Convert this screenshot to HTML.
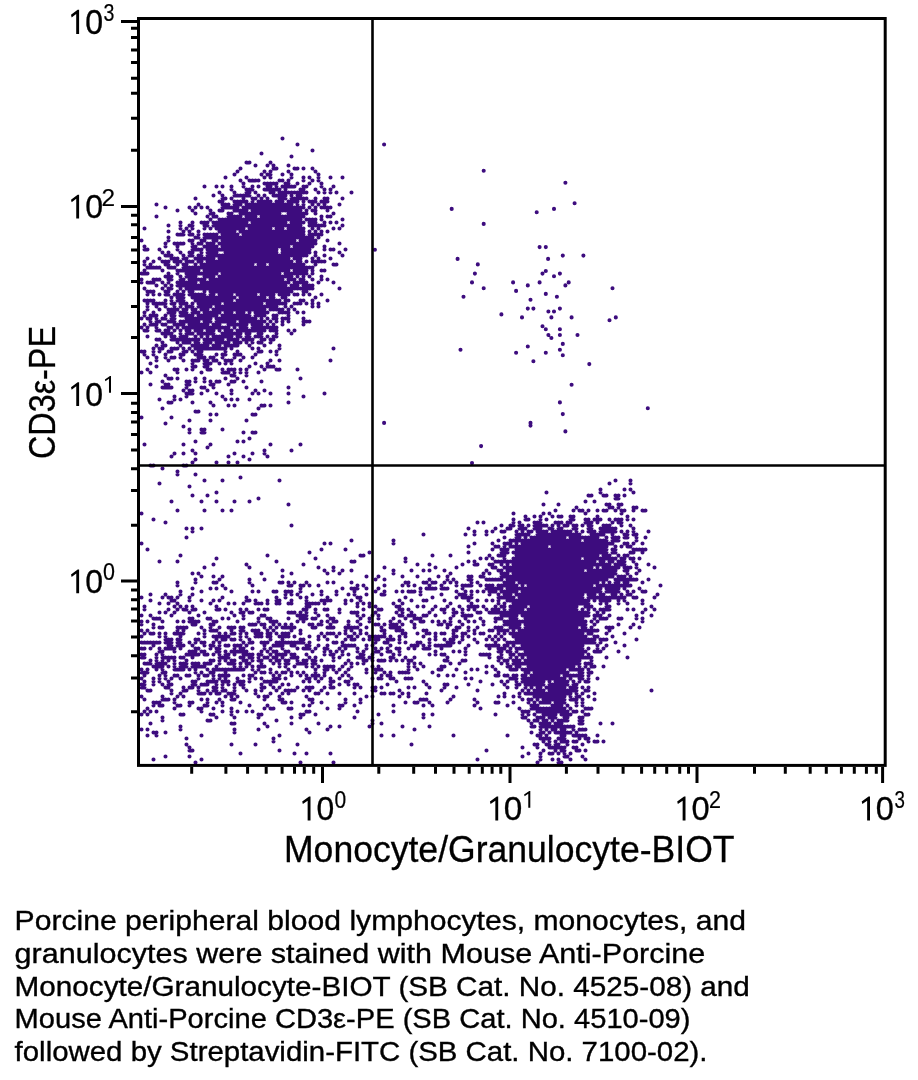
<!DOCTYPE html>
<html><head><meta charset="utf-8"><style>html,body{margin:0;padding:0;background:#fff;}svg{display:block;will-change:transform}</style></head>
<body><svg width="918" height="1080" viewBox="0 0 918 1080">
<rect width="918" height="1080" fill="#fff"/>
<path d="M282.5 138.5h0M297.5 144.5h0M312.5 150.5h0M261.5 153.5h0M291.5 156.5h0M246.5 162.5h0M249.5 162.5h0M270.5 162.5h0M255.5 165.5h0M267.5 165.5h0M273.5 165.5h0M288.5 165.5h0M240.5 168.5h0M273.5 168.5h0M276.5 168.5h0M294.5 168.5h0M297.5 168.5h0M303.5 168.5h0M312.5 168.5h0M237.5 171.5h0M264.5 171.5h0M270.5 171.5h0M288.5 171.5h0M315.5 171.5h0M234.5 174.5h0M261.5 174.5h0M267.5 174.5h0M270.5 174.5h0M282.5 174.5h0M291.5 174.5h0M318.5 174.5h0M225.5 177.5h0M246.5 177.5h0M264.5 177.5h0M270.5 177.5h0M291.5 177.5h0M303.5 177.5h0M309.5 177.5h0M318.5 177.5h0M330.5 177.5h0M342.5 177.5h0M240.5 180.5h0M249.5 180.5h0M252.5 180.5h0M255.5 180.5h0M258.5 180.5h0M279.5 180.5h0M282.5 180.5h0M288.5 180.5h0M303.5 180.5h0M312.5 180.5h0M318.5 180.5h0M243.5 183.5h0M264.5 183.5h0M267.5 183.5h0M270.5 183.5h0M273.5 183.5h0M276.5 183.5h0M285.5 183.5h0M288.5 183.5h0M297.5 183.5h0M309.5 183.5h0M321.5 183.5h0M204.5 186.5h0M216.5 186.5h0M222.5 186.5h0M231.5 186.5h0M243.5 186.5h0M252.5 186.5h0M258.5 186.5h0M267.5 186.5h0M270.5 186.5h0M276.5 186.5h0M282.5 186.5h0M285.5 186.5h0M288.5 186.5h0M291.5 186.5h0M294.5 186.5h0M303.5 186.5h0M306.5 186.5h0M321.5 186.5h0M333.5 186.5h0M231.5 189.5h0M246.5 189.5h0M249.5 189.5h0M252.5 189.5h0M264.5 189.5h0M267.5 189.5h0M270.5 189.5h0M273.5 189.5h0M276.5 189.5h0M279.5 189.5h0M285.5 189.5h0M300.5 189.5h0M303.5 189.5h0M315.5 189.5h0M324.5 189.5h0M330.5 189.5h0M219.5 192.5h0M234.5 192.5h0M246.5 192.5h0M249.5 192.5h0M255.5 192.5h0M270.5 192.5h0M273.5 192.5h0M279.5 192.5h0M282.5 192.5h0M285.5 192.5h0M288.5 192.5h0M291.5 192.5h0M294.5 192.5h0M297.5 192.5h0M300.5 192.5h0M303.5 192.5h0M306.5 192.5h0M318.5 192.5h0M324.5 192.5h0M330.5 192.5h0M336.5 192.5h0M351.5 192.5h0M213.5 195.5h0M222.5 195.5h0M234.5 195.5h0M237.5 195.5h0M240.5 195.5h0M243.5 195.5h0M246.5 195.5h0M249.5 195.5h0M258.5 195.5h0M264.5 195.5h0M273.5 195.5h0M276.5 195.5h0M279.5 195.5h0M282.5 195.5h0M285.5 195.5h0M291.5 195.5h0M297.5 195.5h0M300.5 195.5h0M195.5 198.5h0M222.5 198.5h0M225.5 198.5h0M231.5 198.5h0M243.5 198.5h0M252.5 198.5h0M255.5 198.5h0M261.5 198.5h0M267.5 198.5h0M279.5 198.5h0M282.5 198.5h0M285.5 198.5h0M291.5 198.5h0M294.5 198.5h0M297.5 198.5h0M300.5 198.5h0M303.5 198.5h0M306.5 198.5h0M315.5 198.5h0M324.5 198.5h0M327.5 198.5h0M342.5 198.5h0M219.5 201.5h0M222.5 201.5h0M234.5 201.5h0M237.5 201.5h0M240.5 201.5h0M243.5 201.5h0M246.5 201.5h0M252.5 201.5h0M258.5 201.5h0M261.5 201.5h0M264.5 201.5h0M267.5 201.5h0M270.5 201.5h0M276.5 201.5h0M279.5 201.5h0M282.5 201.5h0M288.5 201.5h0M291.5 201.5h0M294.5 201.5h0M297.5 201.5h0M303.5 201.5h0M309.5 201.5h0M312.5 201.5h0M315.5 201.5h0M321.5 201.5h0M324.5 201.5h0M327.5 201.5h0M156.5 204.5h0M198.5 204.5h0M222.5 204.5h0M225.5 204.5h0M228.5 204.5h0M234.5 204.5h0M237.5 204.5h0M240.5 204.5h0M246.5 204.5h0M249.5 204.5h0M252.5 204.5h0M255.5 204.5h0M258.5 204.5h0M261.5 204.5h0M264.5 204.5h0M267.5 204.5h0M270.5 204.5h0M273.5 204.5h0M276.5 204.5h0M279.5 204.5h0M282.5 204.5h0M285.5 204.5h0M288.5 204.5h0M291.5 204.5h0M297.5 204.5h0M303.5 204.5h0M312.5 204.5h0M318.5 204.5h0M324.5 204.5h0M339.5 204.5h0M165.5 207.5h0M189.5 207.5h0M195.5 207.5h0M201.5 207.5h0M207.5 207.5h0M222.5 207.5h0M225.5 207.5h0M228.5 207.5h0M231.5 207.5h0M234.5 207.5h0M237.5 207.5h0M243.5 207.5h0M246.5 207.5h0M249.5 207.5h0M252.5 207.5h0M255.5 207.5h0M258.5 207.5h0M261.5 207.5h0M264.5 207.5h0M267.5 207.5h0M270.5 207.5h0M273.5 207.5h0M276.5 207.5h0M279.5 207.5h0M282.5 207.5h0M285.5 207.5h0M288.5 207.5h0M291.5 207.5h0M294.5 207.5h0M297.5 207.5h0M300.5 207.5h0M303.5 207.5h0M309.5 207.5h0M315.5 207.5h0M321.5 207.5h0M324.5 207.5h0M327.5 207.5h0M330.5 207.5h0M177.5 210.5h0M192.5 210.5h0M210.5 210.5h0M219.5 210.5h0M222.5 210.5h0M234.5 210.5h0M237.5 210.5h0M240.5 210.5h0M243.5 210.5h0M246.5 210.5h0M252.5 210.5h0M255.5 210.5h0M258.5 210.5h0M261.5 210.5h0M264.5 210.5h0M267.5 210.5h0M270.5 210.5h0M273.5 210.5h0M276.5 210.5h0M279.5 210.5h0M282.5 210.5h0M285.5 210.5h0M288.5 210.5h0M291.5 210.5h0M294.5 210.5h0M297.5 210.5h0M300.5 210.5h0M306.5 210.5h0M312.5 210.5h0M315.5 210.5h0M327.5 210.5h0M195.5 213.5h0M210.5 213.5h0M213.5 213.5h0M228.5 213.5h0M231.5 213.5h0M240.5 213.5h0M243.5 213.5h0M246.5 213.5h0M249.5 213.5h0M252.5 213.5h0M255.5 213.5h0M258.5 213.5h0M261.5 213.5h0M264.5 213.5h0M267.5 213.5h0M270.5 213.5h0M273.5 213.5h0M276.5 213.5h0M279.5 213.5h0M288.5 213.5h0M291.5 213.5h0M294.5 213.5h0M297.5 213.5h0M300.5 213.5h0M303.5 213.5h0M306.5 213.5h0M315.5 213.5h0M333.5 213.5h0M156.5 216.5h0M207.5 216.5h0M213.5 216.5h0M216.5 216.5h0M228.5 216.5h0M231.5 216.5h0M234.5 216.5h0M237.5 216.5h0M240.5 216.5h0M246.5 216.5h0M249.5 216.5h0M252.5 216.5h0M255.5 216.5h0M261.5 216.5h0M264.5 216.5h0M267.5 216.5h0M270.5 216.5h0M273.5 216.5h0M276.5 216.5h0M279.5 216.5h0M282.5 216.5h0M285.5 216.5h0M288.5 216.5h0M291.5 216.5h0M294.5 216.5h0M297.5 216.5h0M300.5 216.5h0M303.5 216.5h0M321.5 216.5h0M327.5 216.5h0M330.5 216.5h0M210.5 219.5h0M219.5 219.5h0M222.5 219.5h0M225.5 219.5h0M228.5 219.5h0M231.5 219.5h0M234.5 219.5h0M237.5 219.5h0M240.5 219.5h0M243.5 219.5h0M246.5 219.5h0M249.5 219.5h0M252.5 219.5h0M255.5 219.5h0M258.5 219.5h0M261.5 219.5h0M264.5 219.5h0M267.5 219.5h0M270.5 219.5h0M273.5 219.5h0M276.5 219.5h0M279.5 219.5h0M282.5 219.5h0M285.5 219.5h0M288.5 219.5h0M291.5 219.5h0M294.5 219.5h0M297.5 219.5h0M300.5 219.5h0M306.5 219.5h0M309.5 219.5h0M312.5 219.5h0M315.5 219.5h0M321.5 219.5h0M342.5 219.5h0M180.5 222.5h0M192.5 222.5h0M201.5 222.5h0M204.5 222.5h0M207.5 222.5h0M213.5 222.5h0M216.5 222.5h0M219.5 222.5h0M222.5 222.5h0M225.5 222.5h0M228.5 222.5h0M231.5 222.5h0M234.5 222.5h0M237.5 222.5h0M240.5 222.5h0M243.5 222.5h0M246.5 222.5h0M252.5 222.5h0M255.5 222.5h0M258.5 222.5h0M261.5 222.5h0M264.5 222.5h0M267.5 222.5h0M270.5 222.5h0M273.5 222.5h0M276.5 222.5h0M279.5 222.5h0M282.5 222.5h0M285.5 222.5h0M291.5 222.5h0M294.5 222.5h0M297.5 222.5h0M300.5 222.5h0M303.5 222.5h0M309.5 222.5h0M312.5 222.5h0M315.5 222.5h0M324.5 222.5h0M330.5 222.5h0M336.5 222.5h0M168.5 225.5h0M180.5 225.5h0M189.5 225.5h0M192.5 225.5h0M204.5 225.5h0M207.5 225.5h0M213.5 225.5h0M216.5 225.5h0M219.5 225.5h0M222.5 225.5h0M225.5 225.5h0M228.5 225.5h0M231.5 225.5h0M234.5 225.5h0M237.5 225.5h0M240.5 225.5h0M243.5 225.5h0M246.5 225.5h0M249.5 225.5h0M252.5 225.5h0M255.5 225.5h0M258.5 225.5h0M261.5 225.5h0M264.5 225.5h0M267.5 225.5h0M270.5 225.5h0M273.5 225.5h0M276.5 225.5h0M279.5 225.5h0M282.5 225.5h0M285.5 225.5h0M288.5 225.5h0M291.5 225.5h0M294.5 225.5h0M297.5 225.5h0M300.5 225.5h0M309.5 225.5h0M312.5 225.5h0M315.5 225.5h0M318.5 225.5h0M321.5 225.5h0M324.5 225.5h0M342.5 225.5h0M144.5 228.5h0M180.5 228.5h0M186.5 228.5h0M192.5 228.5h0M204.5 228.5h0M210.5 228.5h0M216.5 228.5h0M219.5 228.5h0M222.5 228.5h0M225.5 228.5h0M228.5 228.5h0M231.5 228.5h0M234.5 228.5h0M237.5 228.5h0M240.5 228.5h0M243.5 228.5h0M249.5 228.5h0M252.5 228.5h0M255.5 228.5h0M258.5 228.5h0M261.5 228.5h0M264.5 228.5h0M267.5 228.5h0M270.5 228.5h0M276.5 228.5h0M279.5 228.5h0M282.5 228.5h0M288.5 228.5h0M291.5 228.5h0M294.5 228.5h0M297.5 228.5h0M300.5 228.5h0M303.5 228.5h0M312.5 228.5h0M318.5 228.5h0M333.5 228.5h0M339.5 228.5h0M168.5 231.5h0M183.5 231.5h0M189.5 231.5h0M198.5 231.5h0M219.5 231.5h0M222.5 231.5h0M225.5 231.5h0M228.5 231.5h0M231.5 231.5h0M234.5 231.5h0M240.5 231.5h0M243.5 231.5h0M246.5 231.5h0M249.5 231.5h0M252.5 231.5h0M255.5 231.5h0M258.5 231.5h0M261.5 231.5h0M264.5 231.5h0M267.5 231.5h0M270.5 231.5h0M273.5 231.5h0M276.5 231.5h0M279.5 231.5h0M282.5 231.5h0M285.5 231.5h0M288.5 231.5h0M291.5 231.5h0M294.5 231.5h0M297.5 231.5h0M300.5 231.5h0M303.5 231.5h0M309.5 231.5h0M315.5 231.5h0M321.5 231.5h0M327.5 231.5h0M177.5 234.5h0M180.5 234.5h0M183.5 234.5h0M189.5 234.5h0M192.5 234.5h0M198.5 234.5h0M204.5 234.5h0M207.5 234.5h0M210.5 234.5h0M213.5 234.5h0M216.5 234.5h0M222.5 234.5h0M225.5 234.5h0M228.5 234.5h0M231.5 234.5h0M234.5 234.5h0M237.5 234.5h0M243.5 234.5h0M246.5 234.5h0M249.5 234.5h0M252.5 234.5h0M255.5 234.5h0M258.5 234.5h0M261.5 234.5h0M264.5 234.5h0M267.5 234.5h0M270.5 234.5h0M273.5 234.5h0M276.5 234.5h0M279.5 234.5h0M282.5 234.5h0M285.5 234.5h0M288.5 234.5h0M291.5 234.5h0M294.5 234.5h0M297.5 234.5h0M300.5 234.5h0M303.5 234.5h0M309.5 234.5h0M312.5 234.5h0M315.5 234.5h0M318.5 234.5h0M321.5 234.5h0M168.5 237.5h0M195.5 237.5h0M198.5 237.5h0M204.5 237.5h0M207.5 237.5h0M210.5 237.5h0M213.5 237.5h0M216.5 237.5h0M219.5 237.5h0M222.5 237.5h0M225.5 237.5h0M228.5 237.5h0M231.5 237.5h0M234.5 237.5h0M237.5 237.5h0M240.5 237.5h0M243.5 237.5h0M246.5 237.5h0M249.5 237.5h0M252.5 237.5h0M255.5 237.5h0M258.5 237.5h0M261.5 237.5h0M264.5 237.5h0M267.5 237.5h0M270.5 237.5h0M273.5 237.5h0M276.5 237.5h0M279.5 237.5h0M282.5 237.5h0M285.5 237.5h0M288.5 237.5h0M291.5 237.5h0M294.5 237.5h0M297.5 237.5h0M300.5 237.5h0M303.5 237.5h0M306.5 237.5h0M309.5 237.5h0M312.5 237.5h0M318.5 237.5h0M141.5 240.5h0M168.5 240.5h0M189.5 240.5h0M192.5 240.5h0M201.5 240.5h0M204.5 240.5h0M213.5 240.5h0M216.5 240.5h0M222.5 240.5h0M225.5 240.5h0M228.5 240.5h0M231.5 240.5h0M234.5 240.5h0M237.5 240.5h0M240.5 240.5h0M243.5 240.5h0M246.5 240.5h0M249.5 240.5h0M252.5 240.5h0M255.5 240.5h0M258.5 240.5h0M261.5 240.5h0M264.5 240.5h0M267.5 240.5h0M270.5 240.5h0M273.5 240.5h0M276.5 240.5h0M279.5 240.5h0M282.5 240.5h0M285.5 240.5h0M288.5 240.5h0M291.5 240.5h0M294.5 240.5h0M300.5 240.5h0M303.5 240.5h0M306.5 240.5h0M309.5 240.5h0M312.5 240.5h0M315.5 240.5h0M327.5 240.5h0M165.5 243.5h0M174.5 243.5h0M177.5 243.5h0M180.5 243.5h0M183.5 243.5h0M192.5 243.5h0M198.5 243.5h0M201.5 243.5h0M207.5 243.5h0M210.5 243.5h0M213.5 243.5h0M219.5 243.5h0M222.5 243.5h0M225.5 243.5h0M228.5 243.5h0M231.5 243.5h0M234.5 243.5h0M237.5 243.5h0M240.5 243.5h0M243.5 243.5h0M246.5 243.5h0M249.5 243.5h0M252.5 243.5h0M255.5 243.5h0M258.5 243.5h0M261.5 243.5h0M264.5 243.5h0M267.5 243.5h0M270.5 243.5h0M273.5 243.5h0M276.5 243.5h0M279.5 243.5h0M282.5 243.5h0M285.5 243.5h0M288.5 243.5h0M291.5 243.5h0M294.5 243.5h0M297.5 243.5h0M300.5 243.5h0M303.5 243.5h0M306.5 243.5h0M309.5 243.5h0M312.5 243.5h0M315.5 243.5h0M339.5 243.5h0M144.5 246.5h0M165.5 246.5h0M177.5 246.5h0M192.5 246.5h0M195.5 246.5h0M204.5 246.5h0M207.5 246.5h0M210.5 246.5h0M213.5 246.5h0M216.5 246.5h0M222.5 246.5h0M225.5 246.5h0M228.5 246.5h0M231.5 246.5h0M234.5 246.5h0M237.5 246.5h0M240.5 246.5h0M243.5 246.5h0M246.5 246.5h0M249.5 246.5h0M252.5 246.5h0M255.5 246.5h0M258.5 246.5h0M261.5 246.5h0M264.5 246.5h0M267.5 246.5h0M270.5 246.5h0M273.5 246.5h0M276.5 246.5h0M279.5 246.5h0M282.5 246.5h0M285.5 246.5h0M288.5 246.5h0M294.5 246.5h0M297.5 246.5h0M300.5 246.5h0M303.5 246.5h0M306.5 246.5h0M309.5 246.5h0M312.5 246.5h0M324.5 246.5h0M144.5 249.5h0M147.5 249.5h0M159.5 249.5h0M177.5 249.5h0M192.5 249.5h0M195.5 249.5h0M198.5 249.5h0M201.5 249.5h0M207.5 249.5h0M210.5 249.5h0M213.5 249.5h0M216.5 249.5h0M219.5 249.5h0M222.5 249.5h0M225.5 249.5h0M228.5 249.5h0M231.5 249.5h0M234.5 249.5h0M237.5 249.5h0M240.5 249.5h0M243.5 249.5h0M246.5 249.5h0M249.5 249.5h0M252.5 249.5h0M255.5 249.5h0M258.5 249.5h0M261.5 249.5h0M264.5 249.5h0M267.5 249.5h0M270.5 249.5h0M273.5 249.5h0M276.5 249.5h0M282.5 249.5h0M285.5 249.5h0M288.5 249.5h0M291.5 249.5h0M294.5 249.5h0M297.5 249.5h0M300.5 249.5h0M303.5 249.5h0M306.5 249.5h0M309.5 249.5h0M324.5 249.5h0M330.5 249.5h0M333.5 249.5h0M345.5 249.5h0M162.5 252.5h0M168.5 252.5h0M180.5 252.5h0M189.5 252.5h0M192.5 252.5h0M201.5 252.5h0M207.5 252.5h0M210.5 252.5h0M213.5 252.5h0M216.5 252.5h0M225.5 252.5h0M228.5 252.5h0M231.5 252.5h0M234.5 252.5h0M237.5 252.5h0M240.5 252.5h0M243.5 252.5h0M246.5 252.5h0M249.5 252.5h0M252.5 252.5h0M255.5 252.5h0M258.5 252.5h0M261.5 252.5h0M264.5 252.5h0M267.5 252.5h0M270.5 252.5h0M273.5 252.5h0M276.5 252.5h0M282.5 252.5h0M285.5 252.5h0M288.5 252.5h0M291.5 252.5h0M294.5 252.5h0M297.5 252.5h0M300.5 252.5h0M303.5 252.5h0M306.5 252.5h0M309.5 252.5h0M315.5 252.5h0M339.5 252.5h0M165.5 255.5h0M168.5 255.5h0M171.5 255.5h0M183.5 255.5h0M189.5 255.5h0M192.5 255.5h0M198.5 255.5h0M201.5 255.5h0M207.5 255.5h0M210.5 255.5h0M213.5 255.5h0M216.5 255.5h0M219.5 255.5h0M222.5 255.5h0M225.5 255.5h0M228.5 255.5h0M231.5 255.5h0M234.5 255.5h0M237.5 255.5h0M240.5 255.5h0M243.5 255.5h0M246.5 255.5h0M249.5 255.5h0M252.5 255.5h0M255.5 255.5h0M258.5 255.5h0M261.5 255.5h0M264.5 255.5h0M267.5 255.5h0M270.5 255.5h0M273.5 255.5h0M276.5 255.5h0M279.5 255.5h0M282.5 255.5h0M285.5 255.5h0M288.5 255.5h0M291.5 255.5h0M294.5 255.5h0M297.5 255.5h0M300.5 255.5h0M303.5 255.5h0M306.5 255.5h0M315.5 255.5h0M324.5 255.5h0M342.5 255.5h0M147.5 258.5h0M159.5 258.5h0M171.5 258.5h0M174.5 258.5h0M177.5 258.5h0M183.5 258.5h0M186.5 258.5h0M195.5 258.5h0M198.5 258.5h0M201.5 258.5h0M204.5 258.5h0M207.5 258.5h0M210.5 258.5h0M213.5 258.5h0M219.5 258.5h0M222.5 258.5h0M225.5 258.5h0M228.5 258.5h0M231.5 258.5h0M234.5 258.5h0M237.5 258.5h0M240.5 258.5h0M243.5 258.5h0M246.5 258.5h0M249.5 258.5h0M252.5 258.5h0M255.5 258.5h0M258.5 258.5h0M261.5 258.5h0M264.5 258.5h0M267.5 258.5h0M270.5 258.5h0M273.5 258.5h0M276.5 258.5h0M279.5 258.5h0M282.5 258.5h0M285.5 258.5h0M288.5 258.5h0M294.5 258.5h0M297.5 258.5h0M300.5 258.5h0M312.5 258.5h0M318.5 258.5h0M330.5 258.5h0M144.5 261.5h0M153.5 261.5h0M162.5 261.5h0M165.5 261.5h0M168.5 261.5h0M174.5 261.5h0M177.5 261.5h0M180.5 261.5h0M186.5 261.5h0M189.5 261.5h0M192.5 261.5h0M198.5 261.5h0M201.5 261.5h0M207.5 261.5h0M210.5 261.5h0M213.5 261.5h0M216.5 261.5h0M219.5 261.5h0M222.5 261.5h0M225.5 261.5h0M228.5 261.5h0M231.5 261.5h0M234.5 261.5h0M237.5 261.5h0M240.5 261.5h0M243.5 261.5h0M246.5 261.5h0M249.5 261.5h0M252.5 261.5h0M255.5 261.5h0M258.5 261.5h0M261.5 261.5h0M264.5 261.5h0M267.5 261.5h0M270.5 261.5h0M273.5 261.5h0M276.5 261.5h0M279.5 261.5h0M282.5 261.5h0M285.5 261.5h0M288.5 261.5h0M291.5 261.5h0M297.5 261.5h0M300.5 261.5h0M306.5 261.5h0M312.5 261.5h0M315.5 261.5h0M318.5 261.5h0M321.5 261.5h0M324.5 261.5h0M144.5 264.5h0M150.5 264.5h0M165.5 264.5h0M168.5 264.5h0M177.5 264.5h0M183.5 264.5h0M186.5 264.5h0M195.5 264.5h0M201.5 264.5h0M204.5 264.5h0M207.5 264.5h0M210.5 264.5h0M213.5 264.5h0M216.5 264.5h0M219.5 264.5h0M222.5 264.5h0M225.5 264.5h0M228.5 264.5h0M231.5 264.5h0M234.5 264.5h0M237.5 264.5h0M240.5 264.5h0M243.5 264.5h0M246.5 264.5h0M249.5 264.5h0M252.5 264.5h0M258.5 264.5h0M261.5 264.5h0M264.5 264.5h0M270.5 264.5h0M273.5 264.5h0M276.5 264.5h0M279.5 264.5h0M282.5 264.5h0M285.5 264.5h0M288.5 264.5h0M291.5 264.5h0M294.5 264.5h0M297.5 264.5h0M300.5 264.5h0M303.5 264.5h0M315.5 264.5h0M333.5 264.5h0M336.5 264.5h0M147.5 267.5h0M150.5 267.5h0M153.5 267.5h0M156.5 267.5h0M159.5 267.5h0M168.5 267.5h0M171.5 267.5h0M174.5 267.5h0M183.5 267.5h0M186.5 267.5h0M189.5 267.5h0M192.5 267.5h0M195.5 267.5h0M198.5 267.5h0M201.5 267.5h0M204.5 267.5h0M207.5 267.5h0M210.5 267.5h0M213.5 267.5h0M216.5 267.5h0M219.5 267.5h0M222.5 267.5h0M225.5 267.5h0M228.5 267.5h0M231.5 267.5h0M234.5 267.5h0M237.5 267.5h0M240.5 267.5h0M243.5 267.5h0M246.5 267.5h0M249.5 267.5h0M252.5 267.5h0M255.5 267.5h0M258.5 267.5h0M261.5 267.5h0M264.5 267.5h0M267.5 267.5h0M270.5 267.5h0M273.5 267.5h0M276.5 267.5h0M279.5 267.5h0M282.5 267.5h0M285.5 267.5h0M288.5 267.5h0M291.5 267.5h0M294.5 267.5h0M297.5 267.5h0M300.5 267.5h0M303.5 267.5h0M306.5 267.5h0M309.5 267.5h0M312.5 267.5h0M144.5 270.5h0M162.5 270.5h0M177.5 270.5h0M180.5 270.5h0M183.5 270.5h0M186.5 270.5h0M189.5 270.5h0M192.5 270.5h0M195.5 270.5h0M198.5 270.5h0M204.5 270.5h0M207.5 270.5h0M210.5 270.5h0M213.5 270.5h0M216.5 270.5h0M219.5 270.5h0M222.5 270.5h0M225.5 270.5h0M228.5 270.5h0M231.5 270.5h0M234.5 270.5h0M237.5 270.5h0M240.5 270.5h0M243.5 270.5h0M246.5 270.5h0M249.5 270.5h0M252.5 270.5h0M255.5 270.5h0M258.5 270.5h0M261.5 270.5h0M264.5 270.5h0M267.5 270.5h0M270.5 270.5h0M273.5 270.5h0M276.5 270.5h0M279.5 270.5h0M282.5 270.5h0M285.5 270.5h0M288.5 270.5h0M294.5 270.5h0M297.5 270.5h0M300.5 270.5h0M303.5 270.5h0M306.5 270.5h0M312.5 270.5h0M321.5 270.5h0M324.5 270.5h0M141.5 273.5h0M144.5 273.5h0M147.5 273.5h0M168.5 273.5h0M177.5 273.5h0M186.5 273.5h0M189.5 273.5h0M192.5 273.5h0M195.5 273.5h0M198.5 273.5h0M201.5 273.5h0M204.5 273.5h0M207.5 273.5h0M210.5 273.5h0M213.5 273.5h0M216.5 273.5h0M222.5 273.5h0M225.5 273.5h0M228.5 273.5h0M231.5 273.5h0M234.5 273.5h0M237.5 273.5h0M240.5 273.5h0M243.5 273.5h0M246.5 273.5h0M249.5 273.5h0M252.5 273.5h0M255.5 273.5h0M258.5 273.5h0M261.5 273.5h0M264.5 273.5h0M267.5 273.5h0M270.5 273.5h0M273.5 273.5h0M276.5 273.5h0M279.5 273.5h0M285.5 273.5h0M288.5 273.5h0M291.5 273.5h0M294.5 273.5h0M297.5 273.5h0M300.5 273.5h0M303.5 273.5h0M306.5 273.5h0M312.5 273.5h0M165.5 276.5h0M168.5 276.5h0M171.5 276.5h0M180.5 276.5h0M186.5 276.5h0M189.5 276.5h0M192.5 276.5h0M195.5 276.5h0M204.5 276.5h0M207.5 276.5h0M210.5 276.5h0M213.5 276.5h0M219.5 276.5h0M222.5 276.5h0M225.5 276.5h0M228.5 276.5h0M231.5 276.5h0M234.5 276.5h0M237.5 276.5h0M240.5 276.5h0M243.5 276.5h0M246.5 276.5h0M249.5 276.5h0M252.5 276.5h0M255.5 276.5h0M258.5 276.5h0M261.5 276.5h0M264.5 276.5h0M267.5 276.5h0M270.5 276.5h0M273.5 276.5h0M276.5 276.5h0M279.5 276.5h0M282.5 276.5h0M285.5 276.5h0M288.5 276.5h0M291.5 276.5h0M297.5 276.5h0M303.5 276.5h0M309.5 276.5h0M321.5 276.5h0M141.5 279.5h0M153.5 279.5h0M156.5 279.5h0M159.5 279.5h0M168.5 279.5h0M171.5 279.5h0M180.5 279.5h0M183.5 279.5h0M189.5 279.5h0M192.5 279.5h0M195.5 279.5h0M198.5 279.5h0M201.5 279.5h0M204.5 279.5h0M210.5 279.5h0M213.5 279.5h0M216.5 279.5h0M219.5 279.5h0M222.5 279.5h0M225.5 279.5h0M228.5 279.5h0M231.5 279.5h0M234.5 279.5h0M237.5 279.5h0M240.5 279.5h0M243.5 279.5h0M246.5 279.5h0M249.5 279.5h0M252.5 279.5h0M255.5 279.5h0M258.5 279.5h0M261.5 279.5h0M264.5 279.5h0M267.5 279.5h0M270.5 279.5h0M273.5 279.5h0M276.5 279.5h0M279.5 279.5h0M282.5 279.5h0M288.5 279.5h0M291.5 279.5h0M294.5 279.5h0M300.5 279.5h0M303.5 279.5h0M312.5 279.5h0M321.5 279.5h0M327.5 279.5h0M141.5 282.5h0M147.5 282.5h0M150.5 282.5h0M153.5 282.5h0M162.5 282.5h0M168.5 282.5h0M177.5 282.5h0M180.5 282.5h0M183.5 282.5h0M186.5 282.5h0M189.5 282.5h0M192.5 282.5h0M195.5 282.5h0M201.5 282.5h0M204.5 282.5h0M207.5 282.5h0M210.5 282.5h0M213.5 282.5h0M216.5 282.5h0M219.5 282.5h0M222.5 282.5h0M225.5 282.5h0M228.5 282.5h0M231.5 282.5h0M234.5 282.5h0M237.5 282.5h0M240.5 282.5h0M243.5 282.5h0M246.5 282.5h0M249.5 282.5h0M252.5 282.5h0M255.5 282.5h0M258.5 282.5h0M261.5 282.5h0M264.5 282.5h0M267.5 282.5h0M270.5 282.5h0M273.5 282.5h0M276.5 282.5h0M279.5 282.5h0M282.5 282.5h0M285.5 282.5h0M288.5 282.5h0M294.5 282.5h0M297.5 282.5h0M300.5 282.5h0M303.5 282.5h0M306.5 282.5h0M318.5 282.5h0M333.5 282.5h0M156.5 285.5h0M165.5 285.5h0M171.5 285.5h0M177.5 285.5h0M180.5 285.5h0M183.5 285.5h0M186.5 285.5h0M189.5 285.5h0M192.5 285.5h0M195.5 285.5h0M198.5 285.5h0M201.5 285.5h0M204.5 285.5h0M207.5 285.5h0M210.5 285.5h0M213.5 285.5h0M216.5 285.5h0M219.5 285.5h0M222.5 285.5h0M225.5 285.5h0M228.5 285.5h0M231.5 285.5h0M234.5 285.5h0M237.5 285.5h0M240.5 285.5h0M243.5 285.5h0M246.5 285.5h0M249.5 285.5h0M252.5 285.5h0M255.5 285.5h0M258.5 285.5h0M261.5 285.5h0M264.5 285.5h0M267.5 285.5h0M270.5 285.5h0M273.5 285.5h0M276.5 285.5h0M279.5 285.5h0M282.5 285.5h0M285.5 285.5h0M291.5 285.5h0M294.5 285.5h0M297.5 285.5h0M303.5 285.5h0M306.5 285.5h0M309.5 285.5h0M312.5 285.5h0M144.5 288.5h0M162.5 288.5h0M168.5 288.5h0M171.5 288.5h0M180.5 288.5h0M186.5 288.5h0M189.5 288.5h0M192.5 288.5h0M195.5 288.5h0M198.5 288.5h0M201.5 288.5h0M204.5 288.5h0M207.5 288.5h0M210.5 288.5h0M213.5 288.5h0M216.5 288.5h0M219.5 288.5h0M222.5 288.5h0M225.5 288.5h0M228.5 288.5h0M231.5 288.5h0M234.5 288.5h0M237.5 288.5h0M240.5 288.5h0M243.5 288.5h0M246.5 288.5h0M249.5 288.5h0M252.5 288.5h0M255.5 288.5h0M258.5 288.5h0M261.5 288.5h0M264.5 288.5h0M267.5 288.5h0M270.5 288.5h0M273.5 288.5h0M276.5 288.5h0M279.5 288.5h0M282.5 288.5h0M285.5 288.5h0M288.5 288.5h0M291.5 288.5h0M294.5 288.5h0M297.5 288.5h0M300.5 288.5h0M303.5 288.5h0M306.5 288.5h0M309.5 288.5h0M312.5 288.5h0M339.5 288.5h0M147.5 291.5h0M150.5 291.5h0M153.5 291.5h0M165.5 291.5h0M168.5 291.5h0M177.5 291.5h0M183.5 291.5h0M189.5 291.5h0M192.5 291.5h0M204.5 291.5h0M210.5 291.5h0M213.5 291.5h0M216.5 291.5h0M219.5 291.5h0M222.5 291.5h0M225.5 291.5h0M228.5 291.5h0M231.5 291.5h0M234.5 291.5h0M237.5 291.5h0M240.5 291.5h0M243.5 291.5h0M246.5 291.5h0M249.5 291.5h0M252.5 291.5h0M255.5 291.5h0M258.5 291.5h0M261.5 291.5h0M264.5 291.5h0M267.5 291.5h0M270.5 291.5h0M273.5 291.5h0M276.5 291.5h0M279.5 291.5h0M282.5 291.5h0M285.5 291.5h0M288.5 291.5h0M291.5 291.5h0M303.5 291.5h0M306.5 291.5h0M147.5 294.5h0M153.5 294.5h0M159.5 294.5h0M165.5 294.5h0M168.5 294.5h0M174.5 294.5h0M177.5 294.5h0M180.5 294.5h0M183.5 294.5h0M189.5 294.5h0M192.5 294.5h0M195.5 294.5h0M198.5 294.5h0M201.5 294.5h0M204.5 294.5h0M210.5 294.5h0M213.5 294.5h0M219.5 294.5h0M222.5 294.5h0M225.5 294.5h0M228.5 294.5h0M231.5 294.5h0M237.5 294.5h0M240.5 294.5h0M243.5 294.5h0M246.5 294.5h0M249.5 294.5h0M252.5 294.5h0M255.5 294.5h0M261.5 294.5h0M264.5 294.5h0M267.5 294.5h0M270.5 294.5h0M273.5 294.5h0M279.5 294.5h0M282.5 294.5h0M285.5 294.5h0M288.5 294.5h0M294.5 294.5h0M297.5 294.5h0M303.5 294.5h0M309.5 294.5h0M321.5 294.5h0M171.5 297.5h0M177.5 297.5h0M180.5 297.5h0M183.5 297.5h0M192.5 297.5h0M195.5 297.5h0M198.5 297.5h0M201.5 297.5h0M204.5 297.5h0M207.5 297.5h0M210.5 297.5h0M213.5 297.5h0M216.5 297.5h0M219.5 297.5h0M222.5 297.5h0M225.5 297.5h0M228.5 297.5h0M231.5 297.5h0M234.5 297.5h0M240.5 297.5h0M243.5 297.5h0M246.5 297.5h0M249.5 297.5h0M252.5 297.5h0M255.5 297.5h0M258.5 297.5h0M261.5 297.5h0M264.5 297.5h0M270.5 297.5h0M273.5 297.5h0M282.5 297.5h0M285.5 297.5h0M315.5 297.5h0M144.5 300.5h0M147.5 300.5h0M150.5 300.5h0M153.5 300.5h0M165.5 300.5h0M171.5 300.5h0M177.5 300.5h0M180.5 300.5h0M183.5 300.5h0M195.5 300.5h0M198.5 300.5h0M201.5 300.5h0M204.5 300.5h0M207.5 300.5h0M210.5 300.5h0M213.5 300.5h0M216.5 300.5h0M219.5 300.5h0M222.5 300.5h0M225.5 300.5h0M228.5 300.5h0M231.5 300.5h0M237.5 300.5h0M240.5 300.5h0M243.5 300.5h0M246.5 300.5h0M249.5 300.5h0M252.5 300.5h0M255.5 300.5h0M258.5 300.5h0M261.5 300.5h0M264.5 300.5h0M267.5 300.5h0M270.5 300.5h0M273.5 300.5h0M276.5 300.5h0M279.5 300.5h0M285.5 300.5h0M288.5 300.5h0M300.5 300.5h0M303.5 300.5h0M312.5 300.5h0M327.5 300.5h0M147.5 303.5h0M153.5 303.5h0M156.5 303.5h0M159.5 303.5h0M162.5 303.5h0M165.5 303.5h0M171.5 303.5h0M174.5 303.5h0M180.5 303.5h0M183.5 303.5h0M186.5 303.5h0M192.5 303.5h0M198.5 303.5h0M201.5 303.5h0M204.5 303.5h0M207.5 303.5h0M210.5 303.5h0M213.5 303.5h0M216.5 303.5h0M219.5 303.5h0M225.5 303.5h0M228.5 303.5h0M231.5 303.5h0M234.5 303.5h0M237.5 303.5h0M240.5 303.5h0M243.5 303.5h0M246.5 303.5h0M249.5 303.5h0M252.5 303.5h0M255.5 303.5h0M258.5 303.5h0M261.5 303.5h0M267.5 303.5h0M270.5 303.5h0M273.5 303.5h0M276.5 303.5h0M279.5 303.5h0M282.5 303.5h0M285.5 303.5h0M294.5 303.5h0M297.5 303.5h0M300.5 303.5h0M306.5 303.5h0M312.5 303.5h0M318.5 303.5h0M147.5 306.5h0M156.5 306.5h0M165.5 306.5h0M174.5 306.5h0M180.5 306.5h0M186.5 306.5h0M189.5 306.5h0M192.5 306.5h0M198.5 306.5h0M201.5 306.5h0M204.5 306.5h0M207.5 306.5h0M210.5 306.5h0M216.5 306.5h0M219.5 306.5h0M222.5 306.5h0M225.5 306.5h0M228.5 306.5h0M231.5 306.5h0M234.5 306.5h0M237.5 306.5h0M240.5 306.5h0M243.5 306.5h0M246.5 306.5h0M249.5 306.5h0M252.5 306.5h0M255.5 306.5h0M258.5 306.5h0M261.5 306.5h0M264.5 306.5h0M267.5 306.5h0M270.5 306.5h0M273.5 306.5h0M276.5 306.5h0M285.5 306.5h0M291.5 306.5h0M312.5 306.5h0M318.5 306.5h0M147.5 309.5h0M159.5 309.5h0M168.5 309.5h0M171.5 309.5h0M174.5 309.5h0M177.5 309.5h0M183.5 309.5h0M186.5 309.5h0M192.5 309.5h0M195.5 309.5h0M201.5 309.5h0M204.5 309.5h0M207.5 309.5h0M213.5 309.5h0M216.5 309.5h0M219.5 309.5h0M222.5 309.5h0M225.5 309.5h0M228.5 309.5h0M231.5 309.5h0M234.5 309.5h0M237.5 309.5h0M240.5 309.5h0M243.5 309.5h0M246.5 309.5h0M249.5 309.5h0M252.5 309.5h0M255.5 309.5h0M258.5 309.5h0M261.5 309.5h0M264.5 309.5h0M270.5 309.5h0M273.5 309.5h0M276.5 309.5h0M279.5 309.5h0M282.5 309.5h0M288.5 309.5h0M294.5 309.5h0M144.5 312.5h0M153.5 312.5h0M168.5 312.5h0M171.5 312.5h0M174.5 312.5h0M180.5 312.5h0M183.5 312.5h0M186.5 312.5h0M192.5 312.5h0M195.5 312.5h0M198.5 312.5h0M204.5 312.5h0M207.5 312.5h0M210.5 312.5h0M213.5 312.5h0M216.5 312.5h0M219.5 312.5h0M225.5 312.5h0M228.5 312.5h0M231.5 312.5h0M237.5 312.5h0M240.5 312.5h0M243.5 312.5h0M249.5 312.5h0M255.5 312.5h0M258.5 312.5h0M261.5 312.5h0M264.5 312.5h0M267.5 312.5h0M279.5 312.5h0M282.5 312.5h0M285.5 312.5h0M288.5 312.5h0M297.5 312.5h0M303.5 312.5h0M144.5 315.5h0M150.5 315.5h0M153.5 315.5h0M156.5 315.5h0M165.5 315.5h0M171.5 315.5h0M174.5 315.5h0M180.5 315.5h0M183.5 315.5h0M186.5 315.5h0M189.5 315.5h0M192.5 315.5h0M198.5 315.5h0M201.5 315.5h0M204.5 315.5h0M207.5 315.5h0M210.5 315.5h0M213.5 315.5h0M216.5 315.5h0M222.5 315.5h0M225.5 315.5h0M228.5 315.5h0M231.5 315.5h0M234.5 315.5h0M237.5 315.5h0M240.5 315.5h0M243.5 315.5h0M246.5 315.5h0M249.5 315.5h0M255.5 315.5h0M258.5 315.5h0M261.5 315.5h0M264.5 315.5h0M273.5 315.5h0M276.5 315.5h0M288.5 315.5h0M141.5 318.5h0M147.5 318.5h0M150.5 318.5h0M156.5 318.5h0M162.5 318.5h0M165.5 318.5h0M171.5 318.5h0M174.5 318.5h0M186.5 318.5h0M189.5 318.5h0M192.5 318.5h0M195.5 318.5h0M198.5 318.5h0M201.5 318.5h0M204.5 318.5h0M207.5 318.5h0M210.5 318.5h0M216.5 318.5h0M219.5 318.5h0M222.5 318.5h0M225.5 318.5h0M228.5 318.5h0M231.5 318.5h0M234.5 318.5h0M237.5 318.5h0M240.5 318.5h0M243.5 318.5h0M246.5 318.5h0M249.5 318.5h0M252.5 318.5h0M255.5 318.5h0M261.5 318.5h0M267.5 318.5h0M273.5 318.5h0M276.5 318.5h0M282.5 318.5h0M285.5 318.5h0M288.5 318.5h0M303.5 318.5h0M150.5 321.5h0M156.5 321.5h0M159.5 321.5h0M168.5 321.5h0M171.5 321.5h0M174.5 321.5h0M180.5 321.5h0M183.5 321.5h0M186.5 321.5h0M189.5 321.5h0M192.5 321.5h0M195.5 321.5h0M198.5 321.5h0M204.5 321.5h0M207.5 321.5h0M210.5 321.5h0M216.5 321.5h0M219.5 321.5h0M222.5 321.5h0M225.5 321.5h0M228.5 321.5h0M231.5 321.5h0M234.5 321.5h0M240.5 321.5h0M243.5 321.5h0M246.5 321.5h0M249.5 321.5h0M252.5 321.5h0M255.5 321.5h0M258.5 321.5h0M261.5 321.5h0M264.5 321.5h0M270.5 321.5h0M276.5 321.5h0M282.5 321.5h0M288.5 321.5h0M303.5 321.5h0M306.5 321.5h0M309.5 321.5h0M144.5 324.5h0M150.5 324.5h0M153.5 324.5h0M156.5 324.5h0M162.5 324.5h0M165.5 324.5h0M174.5 324.5h0M177.5 324.5h0M180.5 324.5h0M183.5 324.5h0M189.5 324.5h0M192.5 324.5h0M195.5 324.5h0M198.5 324.5h0M201.5 324.5h0M204.5 324.5h0M207.5 324.5h0M213.5 324.5h0M216.5 324.5h0M219.5 324.5h0M228.5 324.5h0M231.5 324.5h0M234.5 324.5h0M237.5 324.5h0M240.5 324.5h0M243.5 324.5h0M246.5 324.5h0M252.5 324.5h0M255.5 324.5h0M258.5 324.5h0M261.5 324.5h0M267.5 324.5h0M273.5 324.5h0M282.5 324.5h0M303.5 324.5h0M141.5 327.5h0M147.5 327.5h0M156.5 327.5h0M168.5 327.5h0M171.5 327.5h0M177.5 327.5h0M183.5 327.5h0M186.5 327.5h0M189.5 327.5h0M192.5 327.5h0M195.5 327.5h0M198.5 327.5h0M201.5 327.5h0M204.5 327.5h0M207.5 327.5h0M210.5 327.5h0M213.5 327.5h0M216.5 327.5h0M219.5 327.5h0M222.5 327.5h0M225.5 327.5h0M228.5 327.5h0M234.5 327.5h0M240.5 327.5h0M243.5 327.5h0M246.5 327.5h0M252.5 327.5h0M255.5 327.5h0M258.5 327.5h0M261.5 327.5h0M264.5 327.5h0M267.5 327.5h0M270.5 327.5h0M273.5 327.5h0M276.5 327.5h0M144.5 330.5h0M147.5 330.5h0M156.5 330.5h0M159.5 330.5h0M165.5 330.5h0M168.5 330.5h0M174.5 330.5h0M180.5 330.5h0M186.5 330.5h0M189.5 330.5h0M195.5 330.5h0M198.5 330.5h0M201.5 330.5h0M207.5 330.5h0M210.5 330.5h0M213.5 330.5h0M219.5 330.5h0M225.5 330.5h0M228.5 330.5h0M231.5 330.5h0M237.5 330.5h0M240.5 330.5h0M243.5 330.5h0M246.5 330.5h0M249.5 330.5h0M252.5 330.5h0M255.5 330.5h0M258.5 330.5h0M261.5 330.5h0M264.5 330.5h0M270.5 330.5h0M273.5 330.5h0M276.5 330.5h0M288.5 330.5h0M294.5 330.5h0M162.5 333.5h0M165.5 333.5h0M168.5 333.5h0M171.5 333.5h0M180.5 333.5h0M186.5 333.5h0M189.5 333.5h0M192.5 333.5h0M198.5 333.5h0M201.5 333.5h0M204.5 333.5h0M207.5 333.5h0M210.5 333.5h0M213.5 333.5h0M222.5 333.5h0M225.5 333.5h0M228.5 333.5h0M231.5 333.5h0M234.5 333.5h0M237.5 333.5h0M240.5 333.5h0M246.5 333.5h0M249.5 333.5h0M258.5 333.5h0M261.5 333.5h0M276.5 333.5h0M291.5 333.5h0M147.5 336.5h0M165.5 336.5h0M171.5 336.5h0M174.5 336.5h0M180.5 336.5h0M183.5 336.5h0M186.5 336.5h0M195.5 336.5h0M201.5 336.5h0M207.5 336.5h0M213.5 336.5h0M216.5 336.5h0M219.5 336.5h0M222.5 336.5h0M225.5 336.5h0M228.5 336.5h0M231.5 336.5h0M237.5 336.5h0M240.5 336.5h0M246.5 336.5h0M249.5 336.5h0M255.5 336.5h0M258.5 336.5h0M261.5 336.5h0M267.5 336.5h0M273.5 336.5h0M276.5 336.5h0M156.5 339.5h0M159.5 339.5h0M171.5 339.5h0M174.5 339.5h0M177.5 339.5h0M180.5 339.5h0M183.5 339.5h0M186.5 339.5h0M189.5 339.5h0M192.5 339.5h0M195.5 339.5h0M198.5 339.5h0M204.5 339.5h0M207.5 339.5h0M210.5 339.5h0M213.5 339.5h0M216.5 339.5h0M219.5 339.5h0M222.5 339.5h0M228.5 339.5h0M231.5 339.5h0M234.5 339.5h0M237.5 339.5h0M243.5 339.5h0M246.5 339.5h0M249.5 339.5h0M252.5 339.5h0M261.5 339.5h0M264.5 339.5h0M270.5 339.5h0M273.5 339.5h0M162.5 342.5h0M177.5 342.5h0M183.5 342.5h0M186.5 342.5h0M189.5 342.5h0M195.5 342.5h0M198.5 342.5h0M204.5 342.5h0M207.5 342.5h0M210.5 342.5h0M216.5 342.5h0M219.5 342.5h0M222.5 342.5h0M225.5 342.5h0M228.5 342.5h0M234.5 342.5h0M237.5 342.5h0M240.5 342.5h0M246.5 342.5h0M252.5 342.5h0M258.5 342.5h0M261.5 342.5h0M270.5 342.5h0M156.5 345.5h0M162.5 345.5h0M165.5 345.5h0M180.5 345.5h0M192.5 345.5h0M195.5 345.5h0M198.5 345.5h0M201.5 345.5h0M204.5 345.5h0M207.5 345.5h0M213.5 345.5h0M216.5 345.5h0M219.5 345.5h0M225.5 345.5h0M228.5 345.5h0M231.5 345.5h0M234.5 345.5h0M237.5 345.5h0M249.5 345.5h0M264.5 345.5h0M279.5 345.5h0M153.5 348.5h0M159.5 348.5h0M162.5 348.5h0M171.5 348.5h0M174.5 348.5h0M177.5 348.5h0M183.5 348.5h0M189.5 348.5h0M195.5 348.5h0M198.5 348.5h0M201.5 348.5h0M204.5 348.5h0M207.5 348.5h0M210.5 348.5h0M213.5 348.5h0M216.5 348.5h0M219.5 348.5h0M222.5 348.5h0M225.5 348.5h0M231.5 348.5h0M252.5 348.5h0M258.5 348.5h0M279.5 348.5h0M333.5 348.5h0M141.5 351.5h0M144.5 351.5h0M153.5 351.5h0M159.5 351.5h0M168.5 351.5h0M171.5 351.5h0M183.5 351.5h0M186.5 351.5h0M192.5 351.5h0M198.5 351.5h0M201.5 351.5h0M225.5 351.5h0M237.5 351.5h0M258.5 351.5h0M261.5 351.5h0M270.5 351.5h0M276.5 351.5h0M144.5 354.5h0M153.5 354.5h0M165.5 354.5h0M180.5 354.5h0M183.5 354.5h0M195.5 354.5h0M198.5 354.5h0M201.5 354.5h0M216.5 354.5h0M222.5 354.5h0M225.5 354.5h0M234.5 354.5h0M237.5 354.5h0M240.5 354.5h0M255.5 354.5h0M276.5 354.5h0M147.5 357.5h0M156.5 357.5h0M165.5 357.5h0M171.5 357.5h0M174.5 357.5h0M180.5 357.5h0M198.5 357.5h0M201.5 357.5h0M204.5 357.5h0M210.5 357.5h0M213.5 357.5h0M222.5 357.5h0M234.5 357.5h0M243.5 357.5h0M252.5 357.5h0M156.5 360.5h0M168.5 360.5h0M183.5 360.5h0M192.5 360.5h0M195.5 360.5h0M198.5 360.5h0M204.5 360.5h0M207.5 360.5h0M213.5 360.5h0M216.5 360.5h0M225.5 360.5h0M228.5 360.5h0M231.5 360.5h0M240.5 360.5h0M270.5 360.5h0M279.5 360.5h0M330.5 360.5h0M150.5 363.5h0M192.5 363.5h0M204.5 363.5h0M207.5 363.5h0M210.5 363.5h0M219.5 363.5h0M225.5 363.5h0M231.5 363.5h0M255.5 363.5h0M267.5 363.5h0M156.5 366.5h0M192.5 366.5h0M195.5 366.5h0M204.5 366.5h0M207.5 366.5h0M249.5 366.5h0M261.5 366.5h0M267.5 366.5h0M270.5 366.5h0M273.5 366.5h0M147.5 369.5h0M174.5 369.5h0M177.5 369.5h0M186.5 369.5h0M192.5 369.5h0M207.5 369.5h0M210.5 369.5h0M222.5 369.5h0M228.5 369.5h0M231.5 369.5h0M234.5 369.5h0M240.5 369.5h0M246.5 369.5h0M264.5 369.5h0M276.5 369.5h0M279.5 369.5h0M297.5 369.5h0M141.5 372.5h0M150.5 372.5h0M177.5 372.5h0M201.5 372.5h0M222.5 372.5h0M225.5 372.5h0M228.5 372.5h0M234.5 372.5h0M240.5 372.5h0M246.5 372.5h0M258.5 372.5h0M165.5 375.5h0M231.5 375.5h0M234.5 375.5h0M246.5 375.5h0M168.5 378.5h0M171.5 378.5h0M177.5 378.5h0M195.5 378.5h0M204.5 378.5h0M225.5 378.5h0M237.5 378.5h0M300.5 378.5h0M162.5 381.5h0M186.5 381.5h0M189.5 381.5h0M195.5 381.5h0M204.5 381.5h0M210.5 381.5h0M216.5 381.5h0M219.5 381.5h0M231.5 381.5h0M234.5 381.5h0M243.5 381.5h0M261.5 381.5h0M150.5 384.5h0M165.5 384.5h0M168.5 384.5h0M186.5 384.5h0M189.5 384.5h0M210.5 384.5h0M213.5 384.5h0M228.5 384.5h0M162.5 387.5h0M165.5 387.5h0M168.5 387.5h0M171.5 387.5h0M186.5 387.5h0M201.5 387.5h0M204.5 387.5h0M213.5 387.5h0M246.5 387.5h0M288.5 387.5h0M183.5 390.5h0M189.5 390.5h0M192.5 390.5h0M207.5 390.5h0M231.5 390.5h0M255.5 390.5h0M264.5 390.5h0M186.5 393.5h0M189.5 393.5h0M192.5 393.5h0M201.5 393.5h0M216.5 393.5h0M231.5 393.5h0M252.5 393.5h0M258.5 393.5h0M270.5 393.5h0M288.5 393.5h0M324.5 393.5h0M174.5 396.5h0M186.5 396.5h0M222.5 396.5h0M303.5 396.5h0M159.5 399.5h0M174.5 399.5h0M180.5 399.5h0M225.5 399.5h0M231.5 399.5h0M237.5 399.5h0M249.5 399.5h0M168.5 402.5h0M171.5 402.5h0M192.5 402.5h0M210.5 402.5h0M288.5 402.5h0M213.5 405.5h0M228.5 405.5h0M234.5 405.5h0M261.5 405.5h0M264.5 405.5h0M270.5 405.5h0M162.5 408.5h0M258.5 408.5h0M195.5 411.5h0M198.5 411.5h0M210.5 414.5h0M216.5 414.5h0M252.5 414.5h0M255.5 414.5h0M141.5 417.5h0M171.5 417.5h0M189.5 420.5h0M210.5 420.5h0M246.5 420.5h0M165.5 423.5h0M183.5 426.5h0M189.5 429.5h0M201.5 429.5h0M204.5 429.5h0M222.5 429.5h0M189.5 432.5h0M201.5 432.5h0M204.5 432.5h0M243.5 432.5h0M252.5 432.5h0M255.5 432.5h0M249.5 438.5h0M195.5 441.5h0M237.5 441.5h0M243.5 441.5h0M144.5 444.5h0M183.5 444.5h0M210.5 444.5h0M270.5 444.5h0M300.5 444.5h0M207.5 447.5h0M192.5 450.5h0M264.5 450.5h0M291.5 450.5h0M174.5 453.5h0M183.5 453.5h0M195.5 453.5h0M234.5 453.5h0M252.5 453.5h0M264.5 453.5h0M171.5 456.5h0M228.5 456.5h0M243.5 456.5h0M267.5 456.5h0M195.5 459.5h0M249.5 459.5h0M192.5 462.5h0M216.5 462.5h0M228.5 462.5h0M237.5 462.5h0M150.5 465.5h0M153.5 465.5h0M183.5 465.5h0M186.5 465.5h0M162.5 468.5h0M177.5 471.5h0M177.5 474.5h0M195.5 474.5h0M240.5 477.5h0M204.5 480.5h0M222.5 480.5h0M279.5 480.5h0M615.5 480.5h0M630.5 480.5h0M159.5 483.5h0M609.5 483.5h0M630.5 483.5h0M189.5 486.5h0M600.5 489.5h0M624.5 489.5h0M630.5 489.5h0M216.5 492.5h0M546.5 492.5h0M600.5 492.5h0M633.5 492.5h0M192.5 495.5h0M207.5 495.5h0M588.5 495.5h0M591.5 495.5h0M603.5 495.5h0M606.5 495.5h0M615.5 495.5h0M618.5 495.5h0M624.5 495.5h0M258.5 498.5h0M615.5 498.5h0M618.5 498.5h0M171.5 501.5h0M201.5 501.5h0M216.5 501.5h0M234.5 501.5h0M249.5 501.5h0M585.5 501.5h0M594.5 501.5h0M288.5 504.5h0M543.5 504.5h0M558.5 504.5h0M606.5 504.5h0M609.5 504.5h0M618.5 504.5h0M621.5 504.5h0M576.5 507.5h0M609.5 507.5h0M612.5 507.5h0M618.5 507.5h0M633.5 507.5h0M636.5 507.5h0M177.5 510.5h0M204.5 510.5h0M222.5 510.5h0M231.5 510.5h0M555.5 510.5h0M573.5 510.5h0M579.5 510.5h0M582.5 510.5h0M588.5 510.5h0M597.5 510.5h0M603.5 510.5h0M606.5 510.5h0M615.5 510.5h0M621.5 510.5h0M624.5 510.5h0M633.5 510.5h0M642.5 510.5h0M645.5 510.5h0M141.5 513.5h0M513.5 513.5h0M543.5 513.5h0M549.5 513.5h0M585.5 513.5h0M621.5 513.5h0M525.5 516.5h0M534.5 516.5h0M540.5 516.5h0M552.5 516.5h0M558.5 516.5h0M561.5 516.5h0M570.5 516.5h0M573.5 516.5h0M597.5 516.5h0M627.5 516.5h0M153.5 519.5h0M513.5 519.5h0M525.5 519.5h0M528.5 519.5h0M540.5 519.5h0M546.5 519.5h0M570.5 519.5h0M573.5 519.5h0M585.5 519.5h0M588.5 519.5h0M594.5 519.5h0M597.5 519.5h0M600.5 519.5h0M609.5 519.5h0M615.5 519.5h0M618.5 519.5h0M621.5 519.5h0M627.5 519.5h0M633.5 519.5h0M165.5 522.5h0M477.5 522.5h0M483.5 522.5h0M513.5 522.5h0M519.5 522.5h0M534.5 522.5h0M537.5 522.5h0M540.5 522.5h0M555.5 522.5h0M558.5 522.5h0M561.5 522.5h0M567.5 522.5h0M570.5 522.5h0M585.5 522.5h0M588.5 522.5h0M591.5 522.5h0M597.5 522.5h0M612.5 522.5h0M618.5 522.5h0M621.5 522.5h0M291.5 525.5h0M501.5 525.5h0M510.5 525.5h0M513.5 525.5h0M519.5 525.5h0M522.5 525.5h0M528.5 525.5h0M534.5 525.5h0M537.5 525.5h0M540.5 525.5h0M543.5 525.5h0M546.5 525.5h0M552.5 525.5h0M558.5 525.5h0M564.5 525.5h0M567.5 525.5h0M573.5 525.5h0M576.5 525.5h0M582.5 525.5h0M588.5 525.5h0M591.5 525.5h0M603.5 525.5h0M606.5 525.5h0M609.5 525.5h0M621.5 525.5h0M630.5 525.5h0M186.5 528.5h0M192.5 528.5h0M201.5 528.5h0M468.5 528.5h0M495.5 528.5h0M507.5 528.5h0M510.5 528.5h0M519.5 528.5h0M522.5 528.5h0M525.5 528.5h0M534.5 528.5h0M537.5 528.5h0M540.5 528.5h0M549.5 528.5h0M552.5 528.5h0M558.5 528.5h0M561.5 528.5h0M573.5 528.5h0M576.5 528.5h0M588.5 528.5h0M591.5 528.5h0M600.5 528.5h0M603.5 528.5h0M606.5 528.5h0M609.5 528.5h0M612.5 528.5h0M615.5 528.5h0M633.5 528.5h0M192.5 531.5h0M474.5 531.5h0M486.5 531.5h0M492.5 531.5h0M501.5 531.5h0M504.5 531.5h0M516.5 531.5h0M522.5 531.5h0M528.5 531.5h0M531.5 531.5h0M537.5 531.5h0M540.5 531.5h0M543.5 531.5h0M546.5 531.5h0M552.5 531.5h0M555.5 531.5h0M558.5 531.5h0M561.5 531.5h0M564.5 531.5h0M567.5 531.5h0M570.5 531.5h0M576.5 531.5h0M582.5 531.5h0M588.5 531.5h0M591.5 531.5h0M594.5 531.5h0M600.5 531.5h0M603.5 531.5h0M606.5 531.5h0M609.5 531.5h0M612.5 531.5h0M615.5 531.5h0M621.5 531.5h0M627.5 531.5h0M633.5 531.5h0M648.5 531.5h0M423.5 534.5h0M465.5 534.5h0M474.5 534.5h0M486.5 534.5h0M516.5 534.5h0M519.5 534.5h0M522.5 534.5h0M525.5 534.5h0M528.5 534.5h0M537.5 534.5h0M540.5 534.5h0M543.5 534.5h0M546.5 534.5h0M549.5 534.5h0M552.5 534.5h0M555.5 534.5h0M558.5 534.5h0M561.5 534.5h0M564.5 534.5h0M567.5 534.5h0M570.5 534.5h0M573.5 534.5h0M576.5 534.5h0M579.5 534.5h0M591.5 534.5h0M594.5 534.5h0M597.5 534.5h0M600.5 534.5h0M603.5 534.5h0M612.5 534.5h0M624.5 534.5h0M627.5 534.5h0M633.5 534.5h0M636.5 534.5h0M186.5 537.5h0M504.5 537.5h0M516.5 537.5h0M519.5 537.5h0M525.5 537.5h0M531.5 537.5h0M534.5 537.5h0M537.5 537.5h0M540.5 537.5h0M543.5 537.5h0M546.5 537.5h0M549.5 537.5h0M552.5 537.5h0M555.5 537.5h0M558.5 537.5h0M561.5 537.5h0M564.5 537.5h0M570.5 537.5h0M573.5 537.5h0M576.5 537.5h0M579.5 537.5h0M582.5 537.5h0M585.5 537.5h0M588.5 537.5h0M591.5 537.5h0M594.5 537.5h0M597.5 537.5h0M606.5 537.5h0M612.5 537.5h0M615.5 537.5h0M618.5 537.5h0M624.5 537.5h0M627.5 537.5h0M636.5 537.5h0M645.5 537.5h0M351.5 540.5h0M393.5 540.5h0M498.5 540.5h0M510.5 540.5h0M513.5 540.5h0M516.5 540.5h0M519.5 540.5h0M522.5 540.5h0M525.5 540.5h0M528.5 540.5h0M531.5 540.5h0M534.5 540.5h0M537.5 540.5h0M540.5 540.5h0M543.5 540.5h0M546.5 540.5h0M549.5 540.5h0M552.5 540.5h0M555.5 540.5h0M558.5 540.5h0M561.5 540.5h0M564.5 540.5h0M567.5 540.5h0M570.5 540.5h0M573.5 540.5h0M576.5 540.5h0M579.5 540.5h0M585.5 540.5h0M588.5 540.5h0M591.5 540.5h0M594.5 540.5h0M597.5 540.5h0M600.5 540.5h0M603.5 540.5h0M606.5 540.5h0M612.5 540.5h0M615.5 540.5h0M618.5 540.5h0M636.5 540.5h0M141.5 543.5h0M324.5 543.5h0M330.5 543.5h0M393.5 543.5h0M474.5 543.5h0M492.5 543.5h0M504.5 543.5h0M507.5 543.5h0M510.5 543.5h0M516.5 543.5h0M522.5 543.5h0M525.5 543.5h0M528.5 543.5h0M531.5 543.5h0M534.5 543.5h0M537.5 543.5h0M540.5 543.5h0M543.5 543.5h0M546.5 543.5h0M549.5 543.5h0M552.5 543.5h0M555.5 543.5h0M558.5 543.5h0M561.5 543.5h0M564.5 543.5h0M567.5 543.5h0M570.5 543.5h0M573.5 543.5h0M576.5 543.5h0M579.5 543.5h0M582.5 543.5h0M585.5 543.5h0M588.5 543.5h0M591.5 543.5h0M594.5 543.5h0M597.5 543.5h0M600.5 543.5h0M603.5 543.5h0M606.5 543.5h0M609.5 543.5h0M612.5 543.5h0M624.5 543.5h0M627.5 543.5h0M633.5 543.5h0M642.5 543.5h0M468.5 546.5h0M495.5 546.5h0M498.5 546.5h0M504.5 546.5h0M510.5 546.5h0M513.5 546.5h0M516.5 546.5h0M519.5 546.5h0M522.5 546.5h0M525.5 546.5h0M528.5 546.5h0M531.5 546.5h0M534.5 546.5h0M537.5 546.5h0M540.5 546.5h0M543.5 546.5h0M546.5 546.5h0M552.5 546.5h0M555.5 546.5h0M558.5 546.5h0M561.5 546.5h0M564.5 546.5h0M567.5 546.5h0M570.5 546.5h0M573.5 546.5h0M576.5 546.5h0M579.5 546.5h0M582.5 546.5h0M585.5 546.5h0M588.5 546.5h0M591.5 546.5h0M594.5 546.5h0M597.5 546.5h0M600.5 546.5h0M603.5 546.5h0M606.5 546.5h0M615.5 546.5h0M621.5 546.5h0M627.5 546.5h0M630.5 546.5h0M147.5 549.5h0M321.5 549.5h0M345.5 549.5h0M492.5 549.5h0M501.5 549.5h0M504.5 549.5h0M507.5 549.5h0M516.5 549.5h0M519.5 549.5h0M522.5 549.5h0M525.5 549.5h0M528.5 549.5h0M531.5 549.5h0M534.5 549.5h0M537.5 549.5h0M540.5 549.5h0M543.5 549.5h0M546.5 549.5h0M549.5 549.5h0M552.5 549.5h0M555.5 549.5h0M558.5 549.5h0M561.5 549.5h0M564.5 549.5h0M567.5 549.5h0M570.5 549.5h0M573.5 549.5h0M576.5 549.5h0M579.5 549.5h0M582.5 549.5h0M585.5 549.5h0M588.5 549.5h0M591.5 549.5h0M594.5 549.5h0M597.5 549.5h0M600.5 549.5h0M603.5 549.5h0M606.5 549.5h0M612.5 549.5h0M615.5 549.5h0M633.5 549.5h0M636.5 549.5h0M639.5 549.5h0M642.5 549.5h0M645.5 549.5h0M309.5 552.5h0M369.5 552.5h0M468.5 552.5h0M501.5 552.5h0M504.5 552.5h0M507.5 552.5h0M513.5 552.5h0M516.5 552.5h0M519.5 552.5h0M522.5 552.5h0M525.5 552.5h0M528.5 552.5h0M531.5 552.5h0M534.5 552.5h0M537.5 552.5h0M540.5 552.5h0M543.5 552.5h0M546.5 552.5h0M549.5 552.5h0M552.5 552.5h0M555.5 552.5h0M558.5 552.5h0M561.5 552.5h0M564.5 552.5h0M567.5 552.5h0M570.5 552.5h0M573.5 552.5h0M576.5 552.5h0M579.5 552.5h0M582.5 552.5h0M585.5 552.5h0M588.5 552.5h0M591.5 552.5h0M594.5 552.5h0M597.5 552.5h0M600.5 552.5h0M603.5 552.5h0M606.5 552.5h0M612.5 552.5h0M615.5 552.5h0M630.5 552.5h0M633.5 552.5h0M642.5 552.5h0M180.5 555.5h0M267.5 555.5h0M360.5 555.5h0M363.5 555.5h0M432.5 555.5h0M450.5 555.5h0M489.5 555.5h0M498.5 555.5h0M501.5 555.5h0M504.5 555.5h0M516.5 555.5h0M519.5 555.5h0M522.5 555.5h0M525.5 555.5h0M528.5 555.5h0M531.5 555.5h0M534.5 555.5h0M537.5 555.5h0M540.5 555.5h0M543.5 555.5h0M546.5 555.5h0M549.5 555.5h0M552.5 555.5h0M555.5 555.5h0M558.5 555.5h0M561.5 555.5h0M564.5 555.5h0M567.5 555.5h0M570.5 555.5h0M573.5 555.5h0M576.5 555.5h0M579.5 555.5h0M582.5 555.5h0M585.5 555.5h0M588.5 555.5h0M591.5 555.5h0M594.5 555.5h0M597.5 555.5h0M603.5 555.5h0M606.5 555.5h0M609.5 555.5h0M618.5 555.5h0M624.5 555.5h0M627.5 555.5h0M216.5 558.5h0M315.5 558.5h0M405.5 558.5h0M480.5 558.5h0M486.5 558.5h0M492.5 558.5h0M504.5 558.5h0M513.5 558.5h0M516.5 558.5h0M519.5 558.5h0M522.5 558.5h0M525.5 558.5h0M528.5 558.5h0M531.5 558.5h0M534.5 558.5h0M537.5 558.5h0M540.5 558.5h0M543.5 558.5h0M546.5 558.5h0M549.5 558.5h0M552.5 558.5h0M555.5 558.5h0M558.5 558.5h0M561.5 558.5h0M564.5 558.5h0M567.5 558.5h0M570.5 558.5h0M573.5 558.5h0M576.5 558.5h0M579.5 558.5h0M585.5 558.5h0M588.5 558.5h0M591.5 558.5h0M594.5 558.5h0M597.5 558.5h0M600.5 558.5h0M603.5 558.5h0M606.5 558.5h0M609.5 558.5h0M612.5 558.5h0M615.5 558.5h0M621.5 558.5h0M624.5 558.5h0M630.5 558.5h0M633.5 558.5h0M639.5 558.5h0M159.5 561.5h0M177.5 561.5h0M276.5 561.5h0M351.5 561.5h0M354.5 561.5h0M405.5 561.5h0M468.5 561.5h0M474.5 561.5h0M495.5 561.5h0M498.5 561.5h0M501.5 561.5h0M504.5 561.5h0M507.5 561.5h0M510.5 561.5h0M513.5 561.5h0M516.5 561.5h0M519.5 561.5h0M522.5 561.5h0M525.5 561.5h0M528.5 561.5h0M531.5 561.5h0M534.5 561.5h0M537.5 561.5h0M540.5 561.5h0M543.5 561.5h0M546.5 561.5h0M549.5 561.5h0M552.5 561.5h0M555.5 561.5h0M558.5 561.5h0M561.5 561.5h0M564.5 561.5h0M567.5 561.5h0M570.5 561.5h0M573.5 561.5h0M576.5 561.5h0M579.5 561.5h0M582.5 561.5h0M585.5 561.5h0M588.5 561.5h0M591.5 561.5h0M594.5 561.5h0M600.5 561.5h0M603.5 561.5h0M609.5 561.5h0M612.5 561.5h0M618.5 561.5h0M621.5 561.5h0M624.5 561.5h0M633.5 561.5h0M213.5 564.5h0M246.5 564.5h0M303.5 564.5h0M417.5 564.5h0M429.5 564.5h0M462.5 564.5h0M474.5 564.5h0M477.5 564.5h0M489.5 564.5h0M492.5 564.5h0M501.5 564.5h0M507.5 564.5h0M513.5 564.5h0M516.5 564.5h0M519.5 564.5h0M522.5 564.5h0M525.5 564.5h0M528.5 564.5h0M531.5 564.5h0M534.5 564.5h0M537.5 564.5h0M540.5 564.5h0M543.5 564.5h0M546.5 564.5h0M549.5 564.5h0M552.5 564.5h0M555.5 564.5h0M558.5 564.5h0M561.5 564.5h0M564.5 564.5h0M567.5 564.5h0M570.5 564.5h0M573.5 564.5h0M576.5 564.5h0M579.5 564.5h0M582.5 564.5h0M585.5 564.5h0M588.5 564.5h0M591.5 564.5h0M594.5 564.5h0M597.5 564.5h0M600.5 564.5h0M603.5 564.5h0M606.5 564.5h0M609.5 564.5h0M615.5 564.5h0M618.5 564.5h0M621.5 564.5h0M624.5 564.5h0M636.5 564.5h0M648.5 564.5h0M204.5 567.5h0M249.5 567.5h0M318.5 567.5h0M333.5 567.5h0M384.5 567.5h0M435.5 567.5h0M456.5 567.5h0M492.5 567.5h0M495.5 567.5h0M504.5 567.5h0M507.5 567.5h0M510.5 567.5h0M513.5 567.5h0M516.5 567.5h0M519.5 567.5h0M522.5 567.5h0M525.5 567.5h0M528.5 567.5h0M531.5 567.5h0M534.5 567.5h0M537.5 567.5h0M540.5 567.5h0M543.5 567.5h0M546.5 567.5h0M549.5 567.5h0M552.5 567.5h0M555.5 567.5h0M558.5 567.5h0M561.5 567.5h0M564.5 567.5h0M567.5 567.5h0M570.5 567.5h0M573.5 567.5h0M576.5 567.5h0M579.5 567.5h0M582.5 567.5h0M585.5 567.5h0M588.5 567.5h0M591.5 567.5h0M597.5 567.5h0M603.5 567.5h0M606.5 567.5h0M609.5 567.5h0M612.5 567.5h0M615.5 567.5h0M618.5 567.5h0M624.5 567.5h0M627.5 567.5h0M630.5 567.5h0M636.5 567.5h0M654.5 567.5h0M282.5 570.5h0M324.5 570.5h0M333.5 570.5h0M342.5 570.5h0M351.5 570.5h0M393.5 570.5h0M411.5 570.5h0M423.5 570.5h0M429.5 570.5h0M444.5 570.5h0M486.5 570.5h0M498.5 570.5h0M501.5 570.5h0M507.5 570.5h0M510.5 570.5h0M513.5 570.5h0M516.5 570.5h0M519.5 570.5h0M522.5 570.5h0M525.5 570.5h0M528.5 570.5h0M531.5 570.5h0M534.5 570.5h0M537.5 570.5h0M540.5 570.5h0M543.5 570.5h0M546.5 570.5h0M549.5 570.5h0M552.5 570.5h0M555.5 570.5h0M558.5 570.5h0M561.5 570.5h0M564.5 570.5h0M567.5 570.5h0M570.5 570.5h0M573.5 570.5h0M576.5 570.5h0M579.5 570.5h0M582.5 570.5h0M588.5 570.5h0M591.5 570.5h0M594.5 570.5h0M597.5 570.5h0M600.5 570.5h0M603.5 570.5h0M606.5 570.5h0M609.5 570.5h0M612.5 570.5h0M615.5 570.5h0M624.5 570.5h0M627.5 570.5h0M639.5 570.5h0M192.5 573.5h0M198.5 573.5h0M261.5 573.5h0M291.5 573.5h0M327.5 573.5h0M339.5 573.5h0M393.5 573.5h0M450.5 573.5h0M483.5 573.5h0M489.5 573.5h0M501.5 573.5h0M504.5 573.5h0M507.5 573.5h0M513.5 573.5h0M516.5 573.5h0M519.5 573.5h0M522.5 573.5h0M525.5 573.5h0M528.5 573.5h0M531.5 573.5h0M534.5 573.5h0M537.5 573.5h0M540.5 573.5h0M543.5 573.5h0M546.5 573.5h0M549.5 573.5h0M552.5 573.5h0M555.5 573.5h0M558.5 573.5h0M561.5 573.5h0M564.5 573.5h0M567.5 573.5h0M570.5 573.5h0M573.5 573.5h0M576.5 573.5h0M579.5 573.5h0M582.5 573.5h0M585.5 573.5h0M588.5 573.5h0M591.5 573.5h0M594.5 573.5h0M597.5 573.5h0M600.5 573.5h0M603.5 573.5h0M606.5 573.5h0M609.5 573.5h0M612.5 573.5h0M615.5 573.5h0M627.5 573.5h0M636.5 573.5h0M201.5 576.5h0M213.5 576.5h0M222.5 576.5h0M282.5 576.5h0M366.5 576.5h0M378.5 576.5h0M402.5 576.5h0M417.5 576.5h0M438.5 576.5h0M447.5 576.5h0M468.5 576.5h0M471.5 576.5h0M480.5 576.5h0M483.5 576.5h0M501.5 576.5h0M504.5 576.5h0M507.5 576.5h0M510.5 576.5h0M513.5 576.5h0M516.5 576.5h0M519.5 576.5h0M522.5 576.5h0M525.5 576.5h0M528.5 576.5h0M531.5 576.5h0M534.5 576.5h0M537.5 576.5h0M540.5 576.5h0M543.5 576.5h0M546.5 576.5h0M549.5 576.5h0M552.5 576.5h0M555.5 576.5h0M558.5 576.5h0M561.5 576.5h0M564.5 576.5h0M567.5 576.5h0M570.5 576.5h0M573.5 576.5h0M576.5 576.5h0M579.5 576.5h0M582.5 576.5h0M585.5 576.5h0M588.5 576.5h0M591.5 576.5h0M594.5 576.5h0M597.5 576.5h0M600.5 576.5h0M603.5 576.5h0M606.5 576.5h0M609.5 576.5h0M612.5 576.5h0M618.5 576.5h0M621.5 576.5h0M624.5 576.5h0M630.5 576.5h0M195.5 579.5h0M219.5 579.5h0M249.5 579.5h0M264.5 579.5h0M375.5 579.5h0M384.5 579.5h0M429.5 579.5h0M447.5 579.5h0M453.5 579.5h0M468.5 579.5h0M471.5 579.5h0M486.5 579.5h0M489.5 579.5h0M492.5 579.5h0M495.5 579.5h0M498.5 579.5h0M501.5 579.5h0M507.5 579.5h0M510.5 579.5h0M513.5 579.5h0M516.5 579.5h0M519.5 579.5h0M522.5 579.5h0M525.5 579.5h0M528.5 579.5h0M531.5 579.5h0M534.5 579.5h0M537.5 579.5h0M540.5 579.5h0M543.5 579.5h0M546.5 579.5h0M549.5 579.5h0M552.5 579.5h0M555.5 579.5h0M558.5 579.5h0M561.5 579.5h0M564.5 579.5h0M567.5 579.5h0M570.5 579.5h0M573.5 579.5h0M576.5 579.5h0M579.5 579.5h0M582.5 579.5h0M585.5 579.5h0M588.5 579.5h0M591.5 579.5h0M594.5 579.5h0M597.5 579.5h0M600.5 579.5h0M603.5 579.5h0M606.5 579.5h0M615.5 579.5h0M618.5 579.5h0M621.5 579.5h0M624.5 579.5h0M627.5 579.5h0M630.5 579.5h0M633.5 579.5h0M636.5 579.5h0M648.5 579.5h0M177.5 582.5h0M195.5 582.5h0M213.5 582.5h0M216.5 582.5h0M249.5 582.5h0M279.5 582.5h0M282.5 582.5h0M288.5 582.5h0M294.5 582.5h0M306.5 582.5h0M327.5 582.5h0M333.5 582.5h0M351.5 582.5h0M405.5 582.5h0M408.5 582.5h0M423.5 582.5h0M426.5 582.5h0M432.5 582.5h0M435.5 582.5h0M444.5 582.5h0M450.5 582.5h0M456.5 582.5h0M471.5 582.5h0M477.5 582.5h0M504.5 582.5h0M507.5 582.5h0M510.5 582.5h0M513.5 582.5h0M519.5 582.5h0M522.5 582.5h0M525.5 582.5h0M528.5 582.5h0M531.5 582.5h0M534.5 582.5h0M537.5 582.5h0M540.5 582.5h0M543.5 582.5h0M546.5 582.5h0M549.5 582.5h0M552.5 582.5h0M555.5 582.5h0M558.5 582.5h0M561.5 582.5h0M564.5 582.5h0M567.5 582.5h0M570.5 582.5h0M573.5 582.5h0M576.5 582.5h0M579.5 582.5h0M582.5 582.5h0M585.5 582.5h0M588.5 582.5h0M591.5 582.5h0M594.5 582.5h0M597.5 582.5h0M603.5 582.5h0M609.5 582.5h0M615.5 582.5h0M618.5 582.5h0M624.5 582.5h0M627.5 582.5h0M642.5 582.5h0M177.5 585.5h0M222.5 585.5h0M252.5 585.5h0M288.5 585.5h0M291.5 585.5h0M300.5 585.5h0M303.5 585.5h0M309.5 585.5h0M318.5 585.5h0M357.5 585.5h0M363.5 585.5h0M384.5 585.5h0M402.5 585.5h0M408.5 585.5h0M414.5 585.5h0M429.5 585.5h0M441.5 585.5h0M456.5 585.5h0M462.5 585.5h0M465.5 585.5h0M468.5 585.5h0M471.5 585.5h0M480.5 585.5h0M486.5 585.5h0M489.5 585.5h0M492.5 585.5h0M498.5 585.5h0M501.5 585.5h0M504.5 585.5h0M507.5 585.5h0M510.5 585.5h0M513.5 585.5h0M516.5 585.5h0M522.5 585.5h0M528.5 585.5h0M531.5 585.5h0M534.5 585.5h0M537.5 585.5h0M540.5 585.5h0M543.5 585.5h0M546.5 585.5h0M549.5 585.5h0M552.5 585.5h0M555.5 585.5h0M558.5 585.5h0M561.5 585.5h0M564.5 585.5h0M567.5 585.5h0M570.5 585.5h0M573.5 585.5h0M576.5 585.5h0M579.5 585.5h0M582.5 585.5h0M585.5 585.5h0M588.5 585.5h0M591.5 585.5h0M597.5 585.5h0M600.5 585.5h0M603.5 585.5h0M606.5 585.5h0M609.5 585.5h0M612.5 585.5h0M615.5 585.5h0M618.5 585.5h0M621.5 585.5h0M624.5 585.5h0M627.5 585.5h0M630.5 585.5h0M660.5 585.5h0M192.5 588.5h0M210.5 588.5h0M216.5 588.5h0M225.5 588.5h0M300.5 588.5h0M342.5 588.5h0M351.5 588.5h0M354.5 588.5h0M357.5 588.5h0M366.5 588.5h0M378.5 588.5h0M420.5 588.5h0M426.5 588.5h0M429.5 588.5h0M432.5 588.5h0M435.5 588.5h0M441.5 588.5h0M444.5 588.5h0M447.5 588.5h0M462.5 588.5h0M486.5 588.5h0M489.5 588.5h0M492.5 588.5h0M495.5 588.5h0M498.5 588.5h0M501.5 588.5h0M507.5 588.5h0M510.5 588.5h0M513.5 588.5h0M516.5 588.5h0M519.5 588.5h0M522.5 588.5h0M525.5 588.5h0M528.5 588.5h0M531.5 588.5h0M534.5 588.5h0M537.5 588.5h0M540.5 588.5h0M543.5 588.5h0M546.5 588.5h0M549.5 588.5h0M552.5 588.5h0M555.5 588.5h0M558.5 588.5h0M561.5 588.5h0M564.5 588.5h0M567.5 588.5h0M570.5 588.5h0M573.5 588.5h0M576.5 588.5h0M579.5 588.5h0M582.5 588.5h0M585.5 588.5h0M588.5 588.5h0M591.5 588.5h0M594.5 588.5h0M597.5 588.5h0M600.5 588.5h0M606.5 588.5h0M609.5 588.5h0M612.5 588.5h0M615.5 588.5h0M618.5 588.5h0M624.5 588.5h0M639.5 588.5h0M180.5 591.5h0M201.5 591.5h0M231.5 591.5h0M252.5 591.5h0M258.5 591.5h0M273.5 591.5h0M276.5 591.5h0M285.5 591.5h0M288.5 591.5h0M291.5 591.5h0M300.5 591.5h0M321.5 591.5h0M336.5 591.5h0M354.5 591.5h0M375.5 591.5h0M384.5 591.5h0M396.5 591.5h0M402.5 591.5h0M408.5 591.5h0M411.5 591.5h0M414.5 591.5h0M420.5 591.5h0M456.5 591.5h0M465.5 591.5h0M471.5 591.5h0M477.5 591.5h0M483.5 591.5h0M489.5 591.5h0M492.5 591.5h0M495.5 591.5h0M501.5 591.5h0M504.5 591.5h0M507.5 591.5h0M510.5 591.5h0M513.5 591.5h0M516.5 591.5h0M522.5 591.5h0M525.5 591.5h0M528.5 591.5h0M531.5 591.5h0M534.5 591.5h0M537.5 591.5h0M540.5 591.5h0M543.5 591.5h0M546.5 591.5h0M549.5 591.5h0M552.5 591.5h0M555.5 591.5h0M558.5 591.5h0M561.5 591.5h0M564.5 591.5h0M567.5 591.5h0M570.5 591.5h0M573.5 591.5h0M576.5 591.5h0M579.5 591.5h0M582.5 591.5h0M585.5 591.5h0M588.5 591.5h0M591.5 591.5h0M594.5 591.5h0M597.5 591.5h0M600.5 591.5h0M606.5 591.5h0M609.5 591.5h0M612.5 591.5h0M615.5 591.5h0M618.5 591.5h0M627.5 591.5h0M633.5 591.5h0M642.5 591.5h0M645.5 591.5h0M150.5 594.5h0M165.5 594.5h0M180.5 594.5h0M192.5 594.5h0M285.5 594.5h0M291.5 594.5h0M297.5 594.5h0M312.5 594.5h0M321.5 594.5h0M336.5 594.5h0M348.5 594.5h0M354.5 594.5h0M366.5 594.5h0M381.5 594.5h0M384.5 594.5h0M420.5 594.5h0M441.5 594.5h0M459.5 594.5h0M462.5 594.5h0M465.5 594.5h0M471.5 594.5h0M489.5 594.5h0M498.5 594.5h0M504.5 594.5h0M507.5 594.5h0M510.5 594.5h0M516.5 594.5h0M519.5 594.5h0M522.5 594.5h0M525.5 594.5h0M528.5 594.5h0M531.5 594.5h0M534.5 594.5h0M537.5 594.5h0M540.5 594.5h0M543.5 594.5h0M546.5 594.5h0M549.5 594.5h0M552.5 594.5h0M555.5 594.5h0M558.5 594.5h0M561.5 594.5h0M564.5 594.5h0M567.5 594.5h0M570.5 594.5h0M573.5 594.5h0M576.5 594.5h0M579.5 594.5h0M582.5 594.5h0M588.5 594.5h0M591.5 594.5h0M594.5 594.5h0M600.5 594.5h0M603.5 594.5h0M612.5 594.5h0M615.5 594.5h0M621.5 594.5h0M627.5 594.5h0M630.5 594.5h0M657.5 594.5h0M141.5 597.5h0M162.5 597.5h0M168.5 597.5h0M171.5 597.5h0M177.5 597.5h0M189.5 597.5h0M222.5 597.5h0M246.5 597.5h0M276.5 597.5h0M285.5 597.5h0M300.5 597.5h0M306.5 597.5h0M327.5 597.5h0M357.5 597.5h0M360.5 597.5h0M405.5 597.5h0M432.5 597.5h0M456.5 597.5h0M462.5 597.5h0M465.5 597.5h0M468.5 597.5h0M471.5 597.5h0M498.5 597.5h0M501.5 597.5h0M504.5 597.5h0M507.5 597.5h0M510.5 597.5h0M513.5 597.5h0M519.5 597.5h0M522.5 597.5h0M525.5 597.5h0M528.5 597.5h0M531.5 597.5h0M534.5 597.5h0M537.5 597.5h0M540.5 597.5h0M543.5 597.5h0M546.5 597.5h0M549.5 597.5h0M552.5 597.5h0M555.5 597.5h0M558.5 597.5h0M561.5 597.5h0M564.5 597.5h0M567.5 597.5h0M570.5 597.5h0M573.5 597.5h0M576.5 597.5h0M579.5 597.5h0M582.5 597.5h0M588.5 597.5h0M591.5 597.5h0M594.5 597.5h0M597.5 597.5h0M600.5 597.5h0M603.5 597.5h0M606.5 597.5h0M609.5 597.5h0M612.5 597.5h0M615.5 597.5h0M618.5 597.5h0M621.5 597.5h0M624.5 597.5h0M633.5 597.5h0M636.5 597.5h0M654.5 597.5h0M150.5 600.5h0M171.5 600.5h0M174.5 600.5h0M189.5 600.5h0M201.5 600.5h0M213.5 600.5h0M219.5 600.5h0M246.5 600.5h0M249.5 600.5h0M255.5 600.5h0M267.5 600.5h0M276.5 600.5h0M279.5 600.5h0M291.5 600.5h0M306.5 600.5h0M321.5 600.5h0M324.5 600.5h0M327.5 600.5h0M330.5 600.5h0M345.5 600.5h0M351.5 600.5h0M360.5 600.5h0M399.5 600.5h0M411.5 600.5h0M423.5 600.5h0M426.5 600.5h0M444.5 600.5h0M468.5 600.5h0M477.5 600.5h0M486.5 600.5h0M492.5 600.5h0M498.5 600.5h0M507.5 600.5h0M510.5 600.5h0M513.5 600.5h0M516.5 600.5h0M519.5 600.5h0M522.5 600.5h0M525.5 600.5h0M528.5 600.5h0M531.5 600.5h0M534.5 600.5h0M537.5 600.5h0M540.5 600.5h0M543.5 600.5h0M546.5 600.5h0M549.5 600.5h0M552.5 600.5h0M555.5 600.5h0M558.5 600.5h0M561.5 600.5h0M564.5 600.5h0M567.5 600.5h0M570.5 600.5h0M573.5 600.5h0M576.5 600.5h0M579.5 600.5h0M582.5 600.5h0M585.5 600.5h0M588.5 600.5h0M594.5 600.5h0M600.5 600.5h0M603.5 600.5h0M606.5 600.5h0M609.5 600.5h0M618.5 600.5h0M624.5 600.5h0M642.5 600.5h0M159.5 603.5h0M168.5 603.5h0M177.5 603.5h0M210.5 603.5h0M228.5 603.5h0M234.5 603.5h0M243.5 603.5h0M255.5 603.5h0M258.5 603.5h0M261.5 603.5h0M267.5 603.5h0M276.5 603.5h0M279.5 603.5h0M288.5 603.5h0M291.5 603.5h0M306.5 603.5h0M309.5 603.5h0M312.5 603.5h0M315.5 603.5h0M318.5 603.5h0M324.5 603.5h0M345.5 603.5h0M357.5 603.5h0M363.5 603.5h0M369.5 603.5h0M393.5 603.5h0M402.5 603.5h0M450.5 603.5h0M471.5 603.5h0M498.5 603.5h0M504.5 603.5h0M513.5 603.5h0M516.5 603.5h0M519.5 603.5h0M522.5 603.5h0M525.5 603.5h0M528.5 603.5h0M531.5 603.5h0M534.5 603.5h0M537.5 603.5h0M540.5 603.5h0M543.5 603.5h0M546.5 603.5h0M549.5 603.5h0M552.5 603.5h0M555.5 603.5h0M558.5 603.5h0M561.5 603.5h0M564.5 603.5h0M567.5 603.5h0M570.5 603.5h0M573.5 603.5h0M576.5 603.5h0M579.5 603.5h0M582.5 603.5h0M585.5 603.5h0M588.5 603.5h0M600.5 603.5h0M606.5 603.5h0M618.5 603.5h0M627.5 603.5h0M642.5 603.5h0M144.5 606.5h0M174.5 606.5h0M180.5 606.5h0M186.5 606.5h0M192.5 606.5h0M216.5 606.5h0M306.5 606.5h0M309.5 606.5h0M357.5 606.5h0M369.5 606.5h0M375.5 606.5h0M396.5 606.5h0M399.5 606.5h0M417.5 606.5h0M423.5 606.5h0M435.5 606.5h0M447.5 606.5h0M459.5 606.5h0M468.5 606.5h0M471.5 606.5h0M474.5 606.5h0M477.5 606.5h0M483.5 606.5h0M495.5 606.5h0M501.5 606.5h0M504.5 606.5h0M510.5 606.5h0M513.5 606.5h0M516.5 606.5h0M519.5 606.5h0M522.5 606.5h0M525.5 606.5h0M531.5 606.5h0M534.5 606.5h0M537.5 606.5h0M540.5 606.5h0M543.5 606.5h0M546.5 606.5h0M549.5 606.5h0M552.5 606.5h0M555.5 606.5h0M558.5 606.5h0M561.5 606.5h0M564.5 606.5h0M567.5 606.5h0M570.5 606.5h0M573.5 606.5h0M576.5 606.5h0M585.5 606.5h0M588.5 606.5h0M591.5 606.5h0M606.5 606.5h0M609.5 606.5h0M651.5 606.5h0M144.5 609.5h0M168.5 609.5h0M177.5 609.5h0M183.5 609.5h0M186.5 609.5h0M192.5 609.5h0M195.5 609.5h0M216.5 609.5h0M219.5 609.5h0M225.5 609.5h0M240.5 609.5h0M246.5 609.5h0M258.5 609.5h0M264.5 609.5h0M267.5 609.5h0M303.5 609.5h0M306.5 609.5h0M315.5 609.5h0M324.5 609.5h0M327.5 609.5h0M339.5 609.5h0M363.5 609.5h0M378.5 609.5h0M381.5 609.5h0M399.5 609.5h0M402.5 609.5h0M408.5 609.5h0M432.5 609.5h0M441.5 609.5h0M444.5 609.5h0M453.5 609.5h0M462.5 609.5h0M468.5 609.5h0M474.5 609.5h0M486.5 609.5h0M492.5 609.5h0M495.5 609.5h0M498.5 609.5h0M504.5 609.5h0M510.5 609.5h0M513.5 609.5h0M516.5 609.5h0M519.5 609.5h0M522.5 609.5h0M528.5 609.5h0M531.5 609.5h0M534.5 609.5h0M537.5 609.5h0M540.5 609.5h0M543.5 609.5h0M546.5 609.5h0M549.5 609.5h0M552.5 609.5h0M555.5 609.5h0M558.5 609.5h0M561.5 609.5h0M564.5 609.5h0M567.5 609.5h0M570.5 609.5h0M573.5 609.5h0M576.5 609.5h0M582.5 609.5h0M588.5 609.5h0M594.5 609.5h0M600.5 609.5h0M603.5 609.5h0M606.5 609.5h0M609.5 609.5h0M627.5 609.5h0M633.5 609.5h0M645.5 609.5h0M654.5 609.5h0M159.5 612.5h0M165.5 612.5h0M174.5 612.5h0M189.5 612.5h0M204.5 612.5h0M231.5 612.5h0M240.5 612.5h0M243.5 612.5h0M249.5 612.5h0M252.5 612.5h0M288.5 612.5h0M291.5 612.5h0M294.5 612.5h0M300.5 612.5h0M306.5 612.5h0M315.5 612.5h0M339.5 612.5h0M351.5 612.5h0M354.5 612.5h0M357.5 612.5h0M375.5 612.5h0M396.5 612.5h0M402.5 612.5h0M411.5 612.5h0M429.5 612.5h0M444.5 612.5h0M453.5 612.5h0M456.5 612.5h0M462.5 612.5h0M477.5 612.5h0M480.5 612.5h0M489.5 612.5h0M492.5 612.5h0M495.5 612.5h0M498.5 612.5h0M501.5 612.5h0M504.5 612.5h0M507.5 612.5h0M510.5 612.5h0M513.5 612.5h0M516.5 612.5h0M519.5 612.5h0M522.5 612.5h0M525.5 612.5h0M528.5 612.5h0M531.5 612.5h0M534.5 612.5h0M537.5 612.5h0M540.5 612.5h0M543.5 612.5h0M546.5 612.5h0M549.5 612.5h0M552.5 612.5h0M555.5 612.5h0M558.5 612.5h0M561.5 612.5h0M564.5 612.5h0M567.5 612.5h0M570.5 612.5h0M573.5 612.5h0M576.5 612.5h0M579.5 612.5h0M582.5 612.5h0M585.5 612.5h0M588.5 612.5h0M597.5 612.5h0M603.5 612.5h0M642.5 612.5h0M141.5 615.5h0M150.5 615.5h0M171.5 615.5h0M198.5 615.5h0M234.5 615.5h0M243.5 615.5h0M261.5 615.5h0M264.5 615.5h0M297.5 615.5h0M300.5 615.5h0M303.5 615.5h0M306.5 615.5h0M318.5 615.5h0M327.5 615.5h0M357.5 615.5h0M363.5 615.5h0M372.5 615.5h0M378.5 615.5h0M399.5 615.5h0M402.5 615.5h0M408.5 615.5h0M411.5 615.5h0M414.5 615.5h0M423.5 615.5h0M426.5 615.5h0M435.5 615.5h0M453.5 615.5h0M462.5 615.5h0M465.5 615.5h0M468.5 615.5h0M471.5 615.5h0M501.5 615.5h0M504.5 615.5h0M507.5 615.5h0M510.5 615.5h0M513.5 615.5h0M516.5 615.5h0M522.5 615.5h0M525.5 615.5h0M528.5 615.5h0M531.5 615.5h0M534.5 615.5h0M537.5 615.5h0M540.5 615.5h0M543.5 615.5h0M546.5 615.5h0M549.5 615.5h0M552.5 615.5h0M555.5 615.5h0M558.5 615.5h0M561.5 615.5h0M564.5 615.5h0M567.5 615.5h0M570.5 615.5h0M573.5 615.5h0M576.5 615.5h0M579.5 615.5h0M582.5 615.5h0M585.5 615.5h0M588.5 615.5h0M594.5 615.5h0M597.5 615.5h0M600.5 615.5h0M609.5 615.5h0M636.5 615.5h0M651.5 615.5h0M153.5 618.5h0M156.5 618.5h0M159.5 618.5h0M189.5 618.5h0M192.5 618.5h0M207.5 618.5h0M210.5 618.5h0M222.5 618.5h0M228.5 618.5h0M243.5 618.5h0M258.5 618.5h0M267.5 618.5h0M270.5 618.5h0M288.5 618.5h0M300.5 618.5h0M303.5 618.5h0M306.5 618.5h0M312.5 618.5h0M315.5 618.5h0M330.5 618.5h0M333.5 618.5h0M360.5 618.5h0M369.5 618.5h0M378.5 618.5h0M393.5 618.5h0M405.5 618.5h0M414.5 618.5h0M417.5 618.5h0M420.5 618.5h0M450.5 618.5h0M465.5 618.5h0M480.5 618.5h0M495.5 618.5h0M498.5 618.5h0M501.5 618.5h0M510.5 618.5h0M513.5 618.5h0M516.5 618.5h0M525.5 618.5h0M528.5 618.5h0M531.5 618.5h0M534.5 618.5h0M537.5 618.5h0M540.5 618.5h0M543.5 618.5h0M546.5 618.5h0M549.5 618.5h0M552.5 618.5h0M555.5 618.5h0M558.5 618.5h0M561.5 618.5h0M564.5 618.5h0M567.5 618.5h0M570.5 618.5h0M573.5 618.5h0M576.5 618.5h0M579.5 618.5h0M582.5 618.5h0M594.5 618.5h0M600.5 618.5h0M603.5 618.5h0M606.5 618.5h0M618.5 618.5h0M621.5 618.5h0M636.5 618.5h0M642.5 618.5h0M141.5 621.5h0M147.5 621.5h0M162.5 621.5h0M177.5 621.5h0M183.5 621.5h0M189.5 621.5h0M192.5 621.5h0M195.5 621.5h0M198.5 621.5h0M213.5 621.5h0M216.5 621.5h0M237.5 621.5h0M258.5 621.5h0M270.5 621.5h0M273.5 621.5h0M276.5 621.5h0M297.5 621.5h0M303.5 621.5h0M321.5 621.5h0M327.5 621.5h0M333.5 621.5h0M336.5 621.5h0M348.5 621.5h0M357.5 621.5h0M369.5 621.5h0M390.5 621.5h0M399.5 621.5h0M411.5 621.5h0M420.5 621.5h0M423.5 621.5h0M432.5 621.5h0M438.5 621.5h0M444.5 621.5h0M450.5 621.5h0M459.5 621.5h0M468.5 621.5h0M474.5 621.5h0M483.5 621.5h0M495.5 621.5h0M504.5 621.5h0M507.5 621.5h0M510.5 621.5h0M513.5 621.5h0M516.5 621.5h0M519.5 621.5h0M522.5 621.5h0M525.5 621.5h0M528.5 621.5h0M531.5 621.5h0M534.5 621.5h0M537.5 621.5h0M540.5 621.5h0M543.5 621.5h0M546.5 621.5h0M549.5 621.5h0M552.5 621.5h0M555.5 621.5h0M558.5 621.5h0M561.5 621.5h0M564.5 621.5h0M567.5 621.5h0M570.5 621.5h0M573.5 621.5h0M576.5 621.5h0M579.5 621.5h0M582.5 621.5h0M585.5 621.5h0M591.5 621.5h0M597.5 621.5h0M642.5 621.5h0M141.5 624.5h0M153.5 624.5h0M192.5 624.5h0M195.5 624.5h0M210.5 624.5h0M213.5 624.5h0M249.5 624.5h0M252.5 624.5h0M255.5 624.5h0M261.5 624.5h0M264.5 624.5h0M273.5 624.5h0M279.5 624.5h0M285.5 624.5h0M291.5 624.5h0M309.5 624.5h0M312.5 624.5h0M318.5 624.5h0M321.5 624.5h0M330.5 624.5h0M348.5 624.5h0M360.5 624.5h0M375.5 624.5h0M378.5 624.5h0M384.5 624.5h0M390.5 624.5h0M393.5 624.5h0M396.5 624.5h0M402.5 624.5h0M414.5 624.5h0M438.5 624.5h0M441.5 624.5h0M447.5 624.5h0M450.5 624.5h0M462.5 624.5h0M483.5 624.5h0M504.5 624.5h0M507.5 624.5h0M510.5 624.5h0M513.5 624.5h0M516.5 624.5h0M519.5 624.5h0M525.5 624.5h0M528.5 624.5h0M531.5 624.5h0M534.5 624.5h0M537.5 624.5h0M540.5 624.5h0M543.5 624.5h0M546.5 624.5h0M549.5 624.5h0M552.5 624.5h0M555.5 624.5h0M558.5 624.5h0M561.5 624.5h0M564.5 624.5h0M567.5 624.5h0M570.5 624.5h0M573.5 624.5h0M576.5 624.5h0M579.5 624.5h0M582.5 624.5h0M585.5 624.5h0M594.5 624.5h0M618.5 624.5h0M633.5 624.5h0M153.5 627.5h0M159.5 627.5h0M162.5 627.5h0M177.5 627.5h0M180.5 627.5h0M183.5 627.5h0M186.5 627.5h0M201.5 627.5h0M210.5 627.5h0M219.5 627.5h0M228.5 627.5h0M231.5 627.5h0M234.5 627.5h0M240.5 627.5h0M243.5 627.5h0M264.5 627.5h0M270.5 627.5h0M276.5 627.5h0M282.5 627.5h0M285.5 627.5h0M288.5 627.5h0M291.5 627.5h0M294.5 627.5h0M312.5 627.5h0M315.5 627.5h0M327.5 627.5h0M330.5 627.5h0M333.5 627.5h0M345.5 627.5h0M348.5 627.5h0M351.5 627.5h0M354.5 627.5h0M357.5 627.5h0M366.5 627.5h0M381.5 627.5h0M390.5 627.5h0M393.5 627.5h0M396.5 627.5h0M399.5 627.5h0M414.5 627.5h0M447.5 627.5h0M456.5 627.5h0M459.5 627.5h0M468.5 627.5h0M477.5 627.5h0M495.5 627.5h0M498.5 627.5h0M501.5 627.5h0M510.5 627.5h0M513.5 627.5h0M516.5 627.5h0M519.5 627.5h0M525.5 627.5h0M528.5 627.5h0M531.5 627.5h0M534.5 627.5h0M537.5 627.5h0M540.5 627.5h0M543.5 627.5h0M546.5 627.5h0M549.5 627.5h0M552.5 627.5h0M555.5 627.5h0M558.5 627.5h0M561.5 627.5h0M564.5 627.5h0M567.5 627.5h0M570.5 627.5h0M573.5 627.5h0M576.5 627.5h0M582.5 627.5h0M585.5 627.5h0M591.5 627.5h0M606.5 627.5h0M609.5 627.5h0M612.5 627.5h0M630.5 627.5h0M639.5 627.5h0M141.5 630.5h0M147.5 630.5h0M177.5 630.5h0M183.5 630.5h0M204.5 630.5h0M210.5 630.5h0M213.5 630.5h0M216.5 630.5h0M231.5 630.5h0M240.5 630.5h0M243.5 630.5h0M252.5 630.5h0M255.5 630.5h0M258.5 630.5h0M267.5 630.5h0M273.5 630.5h0M291.5 630.5h0M300.5 630.5h0M345.5 630.5h0M351.5 630.5h0M360.5 630.5h0M381.5 630.5h0M384.5 630.5h0M396.5 630.5h0M399.5 630.5h0M402.5 630.5h0M423.5 630.5h0M426.5 630.5h0M453.5 630.5h0M456.5 630.5h0M468.5 630.5h0M474.5 630.5h0M489.5 630.5h0M492.5 630.5h0M498.5 630.5h0M501.5 630.5h0M504.5 630.5h0M507.5 630.5h0M513.5 630.5h0M519.5 630.5h0M522.5 630.5h0M525.5 630.5h0M528.5 630.5h0M531.5 630.5h0M534.5 630.5h0M537.5 630.5h0M540.5 630.5h0M543.5 630.5h0M546.5 630.5h0M549.5 630.5h0M552.5 630.5h0M555.5 630.5h0M558.5 630.5h0M561.5 630.5h0M564.5 630.5h0M567.5 630.5h0M570.5 630.5h0M573.5 630.5h0M576.5 630.5h0M579.5 630.5h0M582.5 630.5h0M585.5 630.5h0M588.5 630.5h0M591.5 630.5h0M594.5 630.5h0M597.5 630.5h0M609.5 630.5h0M144.5 633.5h0M150.5 633.5h0M153.5 633.5h0M159.5 633.5h0M165.5 633.5h0M174.5 633.5h0M177.5 633.5h0M180.5 633.5h0M183.5 633.5h0M198.5 633.5h0M204.5 633.5h0M219.5 633.5h0M225.5 633.5h0M231.5 633.5h0M234.5 633.5h0M240.5 633.5h0M246.5 633.5h0M255.5 633.5h0M258.5 633.5h0M261.5 633.5h0M267.5 633.5h0M270.5 633.5h0M276.5 633.5h0M282.5 633.5h0M285.5 633.5h0M288.5 633.5h0M300.5 633.5h0M321.5 633.5h0M327.5 633.5h0M330.5 633.5h0M333.5 633.5h0M339.5 633.5h0M345.5 633.5h0M354.5 633.5h0M360.5 633.5h0M366.5 633.5h0M384.5 633.5h0M402.5 633.5h0M405.5 633.5h0M417.5 633.5h0M426.5 633.5h0M429.5 633.5h0M435.5 633.5h0M441.5 633.5h0M444.5 633.5h0M453.5 633.5h0M462.5 633.5h0M465.5 633.5h0M474.5 633.5h0M480.5 633.5h0M483.5 633.5h0M498.5 633.5h0M504.5 633.5h0M510.5 633.5h0M513.5 633.5h0M516.5 633.5h0M519.5 633.5h0M522.5 633.5h0M525.5 633.5h0M528.5 633.5h0M531.5 633.5h0M534.5 633.5h0M537.5 633.5h0M540.5 633.5h0M543.5 633.5h0M546.5 633.5h0M549.5 633.5h0M552.5 633.5h0M555.5 633.5h0M558.5 633.5h0M561.5 633.5h0M564.5 633.5h0M567.5 633.5h0M570.5 633.5h0M573.5 633.5h0M576.5 633.5h0M579.5 633.5h0M582.5 633.5h0M588.5 633.5h0M591.5 633.5h0M606.5 633.5h0M624.5 633.5h0M141.5 636.5h0M159.5 636.5h0M165.5 636.5h0M180.5 636.5h0M204.5 636.5h0M213.5 636.5h0M216.5 636.5h0M219.5 636.5h0M222.5 636.5h0M225.5 636.5h0M228.5 636.5h0M240.5 636.5h0M246.5 636.5h0M255.5 636.5h0M258.5 636.5h0M261.5 636.5h0M267.5 636.5h0M270.5 636.5h0M279.5 636.5h0M282.5 636.5h0M285.5 636.5h0M288.5 636.5h0M294.5 636.5h0M309.5 636.5h0M318.5 636.5h0M324.5 636.5h0M336.5 636.5h0M348.5 636.5h0M351.5 636.5h0M357.5 636.5h0M369.5 636.5h0M372.5 636.5h0M375.5 636.5h0M378.5 636.5h0M381.5 636.5h0M384.5 636.5h0M390.5 636.5h0M399.5 636.5h0M405.5 636.5h0M423.5 636.5h0M435.5 636.5h0M453.5 636.5h0M456.5 636.5h0M462.5 636.5h0M468.5 636.5h0M489.5 636.5h0M495.5 636.5h0M501.5 636.5h0M513.5 636.5h0M516.5 636.5h0M519.5 636.5h0M522.5 636.5h0M525.5 636.5h0M528.5 636.5h0M531.5 636.5h0M534.5 636.5h0M537.5 636.5h0M540.5 636.5h0M543.5 636.5h0M546.5 636.5h0M549.5 636.5h0M552.5 636.5h0M555.5 636.5h0M558.5 636.5h0M561.5 636.5h0M564.5 636.5h0M567.5 636.5h0M570.5 636.5h0M573.5 636.5h0M576.5 636.5h0M579.5 636.5h0M582.5 636.5h0M585.5 636.5h0M594.5 636.5h0M597.5 636.5h0M612.5 636.5h0M165.5 639.5h0M168.5 639.5h0M171.5 639.5h0M177.5 639.5h0M180.5 639.5h0M195.5 639.5h0M198.5 639.5h0M216.5 639.5h0M222.5 639.5h0M225.5 639.5h0M231.5 639.5h0M234.5 639.5h0M240.5 639.5h0M249.5 639.5h0M270.5 639.5h0M282.5 639.5h0M300.5 639.5h0M303.5 639.5h0M318.5 639.5h0M327.5 639.5h0M345.5 639.5h0M351.5 639.5h0M354.5 639.5h0M363.5 639.5h0M369.5 639.5h0M375.5 639.5h0M378.5 639.5h0M387.5 639.5h0M390.5 639.5h0M393.5 639.5h0M399.5 639.5h0M429.5 639.5h0M435.5 639.5h0M444.5 639.5h0M450.5 639.5h0M453.5 639.5h0M462.5 639.5h0M474.5 639.5h0M486.5 639.5h0M492.5 639.5h0M498.5 639.5h0M504.5 639.5h0M516.5 639.5h0M519.5 639.5h0M522.5 639.5h0M525.5 639.5h0M528.5 639.5h0M531.5 639.5h0M534.5 639.5h0M537.5 639.5h0M540.5 639.5h0M543.5 639.5h0M546.5 639.5h0M549.5 639.5h0M552.5 639.5h0M555.5 639.5h0M558.5 639.5h0M561.5 639.5h0M564.5 639.5h0M567.5 639.5h0M570.5 639.5h0M573.5 639.5h0M576.5 639.5h0M579.5 639.5h0M582.5 639.5h0M585.5 639.5h0M588.5 639.5h0M591.5 639.5h0M594.5 639.5h0M600.5 639.5h0M603.5 639.5h0M606.5 639.5h0M636.5 639.5h0M141.5 642.5h0M144.5 642.5h0M147.5 642.5h0M150.5 642.5h0M153.5 642.5h0M156.5 642.5h0M159.5 642.5h0M165.5 642.5h0M168.5 642.5h0M171.5 642.5h0M177.5 642.5h0M180.5 642.5h0M189.5 642.5h0M195.5 642.5h0M201.5 642.5h0M204.5 642.5h0M213.5 642.5h0M219.5 642.5h0M243.5 642.5h0M249.5 642.5h0M252.5 642.5h0M261.5 642.5h0M264.5 642.5h0M267.5 642.5h0M276.5 642.5h0M279.5 642.5h0M282.5 642.5h0M285.5 642.5h0M288.5 642.5h0M291.5 642.5h0M294.5 642.5h0M297.5 642.5h0M300.5 642.5h0M303.5 642.5h0M309.5 642.5h0M333.5 642.5h0M336.5 642.5h0M342.5 642.5h0M375.5 642.5h0M384.5 642.5h0M387.5 642.5h0M399.5 642.5h0M405.5 642.5h0M417.5 642.5h0M420.5 642.5h0M429.5 642.5h0M447.5 642.5h0M450.5 642.5h0M453.5 642.5h0M459.5 642.5h0M477.5 642.5h0M495.5 642.5h0M507.5 642.5h0M510.5 642.5h0M513.5 642.5h0M516.5 642.5h0M519.5 642.5h0M522.5 642.5h0M525.5 642.5h0M528.5 642.5h0M531.5 642.5h0M534.5 642.5h0M537.5 642.5h0M540.5 642.5h0M543.5 642.5h0M546.5 642.5h0M549.5 642.5h0M552.5 642.5h0M555.5 642.5h0M558.5 642.5h0M561.5 642.5h0M564.5 642.5h0M567.5 642.5h0M570.5 642.5h0M573.5 642.5h0M576.5 642.5h0M579.5 642.5h0M582.5 642.5h0M585.5 642.5h0M588.5 642.5h0M591.5 642.5h0M594.5 642.5h0M600.5 642.5h0M615.5 642.5h0M153.5 645.5h0M168.5 645.5h0M171.5 645.5h0M177.5 645.5h0M180.5 645.5h0M183.5 645.5h0M192.5 645.5h0M204.5 645.5h0M210.5 645.5h0M213.5 645.5h0M219.5 645.5h0M225.5 645.5h0M228.5 645.5h0M234.5 645.5h0M237.5 645.5h0M240.5 645.5h0M246.5 645.5h0M264.5 645.5h0M273.5 645.5h0M276.5 645.5h0M279.5 645.5h0M282.5 645.5h0M291.5 645.5h0M294.5 645.5h0M306.5 645.5h0M309.5 645.5h0M318.5 645.5h0M327.5 645.5h0M342.5 645.5h0M345.5 645.5h0M348.5 645.5h0M351.5 645.5h0M354.5 645.5h0M366.5 645.5h0M372.5 645.5h0M390.5 645.5h0M411.5 645.5h0M414.5 645.5h0M417.5 645.5h0M423.5 645.5h0M429.5 645.5h0M435.5 645.5h0M438.5 645.5h0M441.5 645.5h0M444.5 645.5h0M447.5 645.5h0M450.5 645.5h0M468.5 645.5h0M486.5 645.5h0M489.5 645.5h0M492.5 645.5h0M495.5 645.5h0M498.5 645.5h0M504.5 645.5h0M507.5 645.5h0M513.5 645.5h0M522.5 645.5h0M525.5 645.5h0M528.5 645.5h0M531.5 645.5h0M534.5 645.5h0M537.5 645.5h0M540.5 645.5h0M543.5 645.5h0M546.5 645.5h0M549.5 645.5h0M552.5 645.5h0M555.5 645.5h0M558.5 645.5h0M561.5 645.5h0M564.5 645.5h0M567.5 645.5h0M570.5 645.5h0M573.5 645.5h0M576.5 645.5h0M579.5 645.5h0M582.5 645.5h0M597.5 645.5h0M606.5 645.5h0M624.5 645.5h0M141.5 648.5h0M144.5 648.5h0M150.5 648.5h0M159.5 648.5h0M165.5 648.5h0M168.5 648.5h0M171.5 648.5h0M174.5 648.5h0M180.5 648.5h0M195.5 648.5h0M198.5 648.5h0M210.5 648.5h0M216.5 648.5h0M219.5 648.5h0M234.5 648.5h0M240.5 648.5h0M243.5 648.5h0M252.5 648.5h0M264.5 648.5h0M270.5 648.5h0M282.5 648.5h0M297.5 648.5h0M303.5 648.5h0M306.5 648.5h0M309.5 648.5h0M315.5 648.5h0M324.5 648.5h0M327.5 648.5h0M339.5 648.5h0M345.5 648.5h0M357.5 648.5h0M366.5 648.5h0M375.5 648.5h0M381.5 648.5h0M387.5 648.5h0M396.5 648.5h0M399.5 648.5h0M408.5 648.5h0M414.5 648.5h0M423.5 648.5h0M426.5 648.5h0M429.5 648.5h0M441.5 648.5h0M465.5 648.5h0M489.5 648.5h0M498.5 648.5h0M501.5 648.5h0M504.5 648.5h0M510.5 648.5h0M516.5 648.5h0M519.5 648.5h0M522.5 648.5h0M525.5 648.5h0M528.5 648.5h0M531.5 648.5h0M534.5 648.5h0M537.5 648.5h0M540.5 648.5h0M543.5 648.5h0M546.5 648.5h0M549.5 648.5h0M552.5 648.5h0M555.5 648.5h0M558.5 648.5h0M561.5 648.5h0M564.5 648.5h0M567.5 648.5h0M570.5 648.5h0M573.5 648.5h0M576.5 648.5h0M579.5 648.5h0M582.5 648.5h0M588.5 648.5h0M597.5 648.5h0M603.5 648.5h0M159.5 651.5h0M162.5 651.5h0M174.5 651.5h0M189.5 651.5h0M192.5 651.5h0M195.5 651.5h0M201.5 651.5h0M204.5 651.5h0M216.5 651.5h0M219.5 651.5h0M225.5 651.5h0M231.5 651.5h0M234.5 651.5h0M237.5 651.5h0M240.5 651.5h0M243.5 651.5h0M246.5 651.5h0M261.5 651.5h0M267.5 651.5h0M273.5 651.5h0M276.5 651.5h0M285.5 651.5h0M288.5 651.5h0M312.5 651.5h0M324.5 651.5h0M330.5 651.5h0M336.5 651.5h0M342.5 651.5h0M357.5 651.5h0M363.5 651.5h0M375.5 651.5h0M378.5 651.5h0M387.5 651.5h0M390.5 651.5h0M399.5 651.5h0M435.5 651.5h0M453.5 651.5h0M459.5 651.5h0M465.5 651.5h0M498.5 651.5h0M501.5 651.5h0M507.5 651.5h0M510.5 651.5h0M516.5 651.5h0M525.5 651.5h0M528.5 651.5h0M531.5 651.5h0M534.5 651.5h0M537.5 651.5h0M540.5 651.5h0M543.5 651.5h0M546.5 651.5h0M549.5 651.5h0M552.5 651.5h0M555.5 651.5h0M558.5 651.5h0M561.5 651.5h0M564.5 651.5h0M567.5 651.5h0M570.5 651.5h0M573.5 651.5h0M576.5 651.5h0M579.5 651.5h0M582.5 651.5h0M585.5 651.5h0M594.5 651.5h0M597.5 651.5h0M600.5 651.5h0M618.5 651.5h0M141.5 654.5h0M144.5 654.5h0M156.5 654.5h0M162.5 654.5h0M186.5 654.5h0M189.5 654.5h0M192.5 654.5h0M195.5 654.5h0M198.5 654.5h0M204.5 654.5h0M207.5 654.5h0M213.5 654.5h0M219.5 654.5h0M225.5 654.5h0M228.5 654.5h0M234.5 654.5h0M243.5 654.5h0M246.5 654.5h0M249.5 654.5h0M252.5 654.5h0M258.5 654.5h0M261.5 654.5h0M270.5 654.5h0M276.5 654.5h0M279.5 654.5h0M282.5 654.5h0M285.5 654.5h0M291.5 654.5h0M294.5 654.5h0M306.5 654.5h0M324.5 654.5h0M330.5 654.5h0M333.5 654.5h0M342.5 654.5h0M348.5 654.5h0M360.5 654.5h0M363.5 654.5h0M372.5 654.5h0M381.5 654.5h0M393.5 654.5h0M399.5 654.5h0M429.5 654.5h0M435.5 654.5h0M441.5 654.5h0M444.5 654.5h0M465.5 654.5h0M480.5 654.5h0M483.5 654.5h0M486.5 654.5h0M489.5 654.5h0M501.5 654.5h0M510.5 654.5h0M513.5 654.5h0M519.5 654.5h0M522.5 654.5h0M525.5 654.5h0M528.5 654.5h0M531.5 654.5h0M534.5 654.5h0M537.5 654.5h0M540.5 654.5h0M543.5 654.5h0M546.5 654.5h0M549.5 654.5h0M552.5 654.5h0M555.5 654.5h0M558.5 654.5h0M561.5 654.5h0M564.5 654.5h0M567.5 654.5h0M570.5 654.5h0M573.5 654.5h0M576.5 654.5h0M579.5 654.5h0M582.5 654.5h0M588.5 654.5h0M141.5 657.5h0M144.5 657.5h0M156.5 657.5h0M162.5 657.5h0M165.5 657.5h0M168.5 657.5h0M171.5 657.5h0M174.5 657.5h0M180.5 657.5h0M183.5 657.5h0M192.5 657.5h0M219.5 657.5h0M222.5 657.5h0M225.5 657.5h0M228.5 657.5h0M240.5 657.5h0M243.5 657.5h0M249.5 657.5h0M252.5 657.5h0M258.5 657.5h0M264.5 657.5h0M267.5 657.5h0M273.5 657.5h0M276.5 657.5h0M282.5 657.5h0M291.5 657.5h0M294.5 657.5h0M297.5 657.5h0M309.5 657.5h0M315.5 657.5h0M333.5 657.5h0M339.5 657.5h0M357.5 657.5h0M360.5 657.5h0M363.5 657.5h0M369.5 657.5h0M372.5 657.5h0M390.5 657.5h0M393.5 657.5h0M405.5 657.5h0M414.5 657.5h0M447.5 657.5h0M489.5 657.5h0M498.5 657.5h0M501.5 657.5h0M510.5 657.5h0M516.5 657.5h0M522.5 657.5h0M528.5 657.5h0M531.5 657.5h0M534.5 657.5h0M537.5 657.5h0M540.5 657.5h0M543.5 657.5h0M546.5 657.5h0M549.5 657.5h0M552.5 657.5h0M555.5 657.5h0M558.5 657.5h0M561.5 657.5h0M564.5 657.5h0M567.5 657.5h0M570.5 657.5h0M573.5 657.5h0M576.5 657.5h0M579.5 657.5h0M582.5 657.5h0M585.5 657.5h0M588.5 657.5h0M591.5 657.5h0M606.5 657.5h0M627.5 657.5h0M150.5 660.5h0M156.5 660.5h0M162.5 660.5h0M168.5 660.5h0M174.5 660.5h0M186.5 660.5h0M210.5 660.5h0M213.5 660.5h0M219.5 660.5h0M225.5 660.5h0M231.5 660.5h0M234.5 660.5h0M243.5 660.5h0M246.5 660.5h0M252.5 660.5h0M258.5 660.5h0M261.5 660.5h0M270.5 660.5h0M276.5 660.5h0M279.5 660.5h0M285.5 660.5h0M288.5 660.5h0M297.5 660.5h0M303.5 660.5h0M306.5 660.5h0M312.5 660.5h0M315.5 660.5h0M321.5 660.5h0M333.5 660.5h0M348.5 660.5h0M363.5 660.5h0M366.5 660.5h0M372.5 660.5h0M378.5 660.5h0M381.5 660.5h0M384.5 660.5h0M390.5 660.5h0M396.5 660.5h0M402.5 660.5h0M408.5 660.5h0M411.5 660.5h0M444.5 660.5h0M447.5 660.5h0M462.5 660.5h0M465.5 660.5h0M498.5 660.5h0M504.5 660.5h0M507.5 660.5h0M513.5 660.5h0M516.5 660.5h0M519.5 660.5h0M525.5 660.5h0M528.5 660.5h0M531.5 660.5h0M534.5 660.5h0M537.5 660.5h0M540.5 660.5h0M543.5 660.5h0M546.5 660.5h0M549.5 660.5h0M552.5 660.5h0M555.5 660.5h0M558.5 660.5h0M561.5 660.5h0M564.5 660.5h0M567.5 660.5h0M570.5 660.5h0M573.5 660.5h0M576.5 660.5h0M579.5 660.5h0M591.5 660.5h0M144.5 663.5h0M147.5 663.5h0M150.5 663.5h0M156.5 663.5h0M159.5 663.5h0M162.5 663.5h0M165.5 663.5h0M174.5 663.5h0M180.5 663.5h0M183.5 663.5h0M186.5 663.5h0M192.5 663.5h0M195.5 663.5h0M198.5 663.5h0M204.5 663.5h0M207.5 663.5h0M210.5 663.5h0M219.5 663.5h0M228.5 663.5h0M231.5 663.5h0M234.5 663.5h0M240.5 663.5h0M246.5 663.5h0M249.5 663.5h0M261.5 663.5h0M273.5 663.5h0M279.5 663.5h0M285.5 663.5h0M288.5 663.5h0M297.5 663.5h0M300.5 663.5h0M303.5 663.5h0M306.5 663.5h0M312.5 663.5h0M315.5 663.5h0M345.5 663.5h0M351.5 663.5h0M357.5 663.5h0M363.5 663.5h0M408.5 663.5h0M414.5 663.5h0M420.5 663.5h0M450.5 663.5h0M459.5 663.5h0M501.5 663.5h0M507.5 663.5h0M513.5 663.5h0M516.5 663.5h0M519.5 663.5h0M522.5 663.5h0M525.5 663.5h0M528.5 663.5h0M531.5 663.5h0M534.5 663.5h0M537.5 663.5h0M540.5 663.5h0M543.5 663.5h0M546.5 663.5h0M549.5 663.5h0M552.5 663.5h0M555.5 663.5h0M558.5 663.5h0M561.5 663.5h0M564.5 663.5h0M567.5 663.5h0M570.5 663.5h0M573.5 663.5h0M576.5 663.5h0M579.5 663.5h0M585.5 663.5h0M588.5 663.5h0M591.5 663.5h0M153.5 666.5h0M156.5 666.5h0M159.5 666.5h0M162.5 666.5h0M168.5 666.5h0M174.5 666.5h0M180.5 666.5h0M183.5 666.5h0M186.5 666.5h0M192.5 666.5h0M195.5 666.5h0M198.5 666.5h0M201.5 666.5h0M204.5 666.5h0M216.5 666.5h0M234.5 666.5h0M240.5 666.5h0M246.5 666.5h0M252.5 666.5h0M258.5 666.5h0M261.5 666.5h0M264.5 666.5h0M279.5 666.5h0M285.5 666.5h0M294.5 666.5h0M306.5 666.5h0M312.5 666.5h0M318.5 666.5h0M324.5 666.5h0M327.5 666.5h0M330.5 666.5h0M333.5 666.5h0M342.5 666.5h0M351.5 666.5h0M372.5 666.5h0M378.5 666.5h0M408.5 666.5h0M414.5 666.5h0M423.5 666.5h0M441.5 666.5h0M444.5 666.5h0M486.5 666.5h0M492.5 666.5h0M507.5 666.5h0M510.5 666.5h0M516.5 666.5h0M519.5 666.5h0M528.5 666.5h0M531.5 666.5h0M534.5 666.5h0M537.5 666.5h0M540.5 666.5h0M543.5 666.5h0M546.5 666.5h0M549.5 666.5h0M552.5 666.5h0M555.5 666.5h0M558.5 666.5h0M561.5 666.5h0M564.5 666.5h0M567.5 666.5h0M570.5 666.5h0M573.5 666.5h0M579.5 666.5h0M585.5 666.5h0M591.5 666.5h0M594.5 666.5h0M603.5 666.5h0M141.5 669.5h0M147.5 669.5h0M156.5 669.5h0M162.5 669.5h0M174.5 669.5h0M177.5 669.5h0M180.5 669.5h0M183.5 669.5h0M189.5 669.5h0M195.5 669.5h0M207.5 669.5h0M213.5 669.5h0M216.5 669.5h0M219.5 669.5h0M222.5 669.5h0M225.5 669.5h0M228.5 669.5h0M231.5 669.5h0M234.5 669.5h0M237.5 669.5h0M240.5 669.5h0M243.5 669.5h0M252.5 669.5h0M258.5 669.5h0M270.5 669.5h0M288.5 669.5h0M315.5 669.5h0M324.5 669.5h0M327.5 669.5h0M333.5 669.5h0M339.5 669.5h0M348.5 669.5h0M366.5 669.5h0M375.5 669.5h0M378.5 669.5h0M381.5 669.5h0M408.5 669.5h0M417.5 669.5h0M438.5 669.5h0M441.5 669.5h0M456.5 669.5h0M471.5 669.5h0M477.5 669.5h0M495.5 669.5h0M510.5 669.5h0M513.5 669.5h0M516.5 669.5h0M522.5 669.5h0M525.5 669.5h0M528.5 669.5h0M531.5 669.5h0M534.5 669.5h0M537.5 669.5h0M540.5 669.5h0M543.5 669.5h0M546.5 669.5h0M549.5 669.5h0M552.5 669.5h0M555.5 669.5h0M558.5 669.5h0M561.5 669.5h0M564.5 669.5h0M570.5 669.5h0M573.5 669.5h0M576.5 669.5h0M579.5 669.5h0M582.5 669.5h0M588.5 669.5h0M141.5 672.5h0M144.5 672.5h0M147.5 672.5h0M162.5 672.5h0M165.5 672.5h0M195.5 672.5h0M201.5 672.5h0M210.5 672.5h0M213.5 672.5h0M225.5 672.5h0M255.5 672.5h0M261.5 672.5h0M264.5 672.5h0M270.5 672.5h0M276.5 672.5h0M282.5 672.5h0M285.5 672.5h0M291.5 672.5h0M297.5 672.5h0M303.5 672.5h0M315.5 672.5h0M324.5 672.5h0M336.5 672.5h0M345.5 672.5h0M366.5 672.5h0M375.5 672.5h0M384.5 672.5h0M390.5 672.5h0M399.5 672.5h0M402.5 672.5h0M405.5 672.5h0M408.5 672.5h0M432.5 672.5h0M465.5 672.5h0M486.5 672.5h0M498.5 672.5h0M525.5 672.5h0M528.5 672.5h0M534.5 672.5h0M537.5 672.5h0M540.5 672.5h0M543.5 672.5h0M546.5 672.5h0M549.5 672.5h0M552.5 672.5h0M555.5 672.5h0M558.5 672.5h0M561.5 672.5h0M564.5 672.5h0M567.5 672.5h0M579.5 672.5h0M582.5 672.5h0M588.5 672.5h0M591.5 672.5h0M144.5 675.5h0M159.5 675.5h0M165.5 675.5h0M174.5 675.5h0M177.5 675.5h0M186.5 675.5h0M189.5 675.5h0M198.5 675.5h0M204.5 675.5h0M207.5 675.5h0M213.5 675.5h0M219.5 675.5h0M222.5 675.5h0M225.5 675.5h0M228.5 675.5h0M243.5 675.5h0M249.5 675.5h0M252.5 675.5h0M273.5 675.5h0M279.5 675.5h0M291.5 675.5h0M300.5 675.5h0M306.5 675.5h0M312.5 675.5h0M315.5 675.5h0M318.5 675.5h0M324.5 675.5h0M342.5 675.5h0M348.5 675.5h0M381.5 675.5h0M387.5 675.5h0M390.5 675.5h0M438.5 675.5h0M447.5 675.5h0M453.5 675.5h0M495.5 675.5h0M498.5 675.5h0M504.5 675.5h0M507.5 675.5h0M513.5 675.5h0M516.5 675.5h0M522.5 675.5h0M525.5 675.5h0M531.5 675.5h0M534.5 675.5h0M537.5 675.5h0M540.5 675.5h0M543.5 675.5h0M546.5 675.5h0M549.5 675.5h0M552.5 675.5h0M555.5 675.5h0M558.5 675.5h0M564.5 675.5h0M567.5 675.5h0M570.5 675.5h0M573.5 675.5h0M576.5 675.5h0M579.5 675.5h0M582.5 675.5h0M588.5 675.5h0M141.5 678.5h0M153.5 678.5h0M159.5 678.5h0M165.5 678.5h0M171.5 678.5h0M180.5 678.5h0M198.5 678.5h0M213.5 678.5h0M219.5 678.5h0M225.5 678.5h0M237.5 678.5h0M249.5 678.5h0M255.5 678.5h0M261.5 678.5h0M273.5 678.5h0M276.5 678.5h0M279.5 678.5h0M285.5 678.5h0M306.5 678.5h0M309.5 678.5h0M315.5 678.5h0M321.5 678.5h0M330.5 678.5h0M339.5 678.5h0M351.5 678.5h0M372.5 678.5h0M378.5 678.5h0M381.5 678.5h0M390.5 678.5h0M393.5 678.5h0M405.5 678.5h0M408.5 678.5h0M411.5 678.5h0M465.5 678.5h0M471.5 678.5h0M510.5 678.5h0M513.5 678.5h0M516.5 678.5h0M522.5 678.5h0M525.5 678.5h0M528.5 678.5h0M531.5 678.5h0M534.5 678.5h0M537.5 678.5h0M540.5 678.5h0M543.5 678.5h0M546.5 678.5h0M549.5 678.5h0M552.5 678.5h0M555.5 678.5h0M558.5 678.5h0M561.5 678.5h0M564.5 678.5h0M570.5 678.5h0M579.5 678.5h0M582.5 678.5h0M588.5 678.5h0M597.5 678.5h0M144.5 681.5h0M153.5 681.5h0M159.5 681.5h0M168.5 681.5h0M192.5 681.5h0M195.5 681.5h0M207.5 681.5h0M210.5 681.5h0M213.5 681.5h0M216.5 681.5h0M222.5 681.5h0M225.5 681.5h0M228.5 681.5h0M237.5 681.5h0M240.5 681.5h0M243.5 681.5h0M249.5 681.5h0M264.5 681.5h0M267.5 681.5h0M270.5 681.5h0M273.5 681.5h0M276.5 681.5h0M303.5 681.5h0M309.5 681.5h0M318.5 681.5h0M330.5 681.5h0M333.5 681.5h0M345.5 681.5h0M348.5 681.5h0M396.5 681.5h0M423.5 681.5h0M480.5 681.5h0M501.5 681.5h0M507.5 681.5h0M516.5 681.5h0M522.5 681.5h0M525.5 681.5h0M528.5 681.5h0M531.5 681.5h0M534.5 681.5h0M537.5 681.5h0M540.5 681.5h0M543.5 681.5h0M549.5 681.5h0M555.5 681.5h0M558.5 681.5h0M561.5 681.5h0M564.5 681.5h0M567.5 681.5h0M573.5 681.5h0M579.5 681.5h0M585.5 681.5h0M588.5 681.5h0M141.5 684.5h0M144.5 684.5h0M153.5 684.5h0M162.5 684.5h0M168.5 684.5h0M171.5 684.5h0M192.5 684.5h0M195.5 684.5h0M201.5 684.5h0M204.5 684.5h0M207.5 684.5h0M216.5 684.5h0M222.5 684.5h0M228.5 684.5h0M234.5 684.5h0M240.5 684.5h0M243.5 684.5h0M261.5 684.5h0M270.5 684.5h0M282.5 684.5h0M288.5 684.5h0M330.5 684.5h0M339.5 684.5h0M348.5 684.5h0M354.5 684.5h0M357.5 684.5h0M387.5 684.5h0M426.5 684.5h0M444.5 684.5h0M447.5 684.5h0M468.5 684.5h0M492.5 684.5h0M504.5 684.5h0M516.5 684.5h0M519.5 684.5h0M525.5 684.5h0M528.5 684.5h0M531.5 684.5h0M534.5 684.5h0M537.5 684.5h0M540.5 684.5h0M543.5 684.5h0M549.5 684.5h0M552.5 684.5h0M555.5 684.5h0M558.5 684.5h0M561.5 684.5h0M564.5 684.5h0M567.5 684.5h0M573.5 684.5h0M576.5 684.5h0M141.5 687.5h0M144.5 687.5h0M165.5 687.5h0M168.5 687.5h0M183.5 687.5h0M189.5 687.5h0M192.5 687.5h0M198.5 687.5h0M213.5 687.5h0M216.5 687.5h0M222.5 687.5h0M234.5 687.5h0M243.5 687.5h0M261.5 687.5h0M264.5 687.5h0M273.5 687.5h0M279.5 687.5h0M297.5 687.5h0M306.5 687.5h0M309.5 687.5h0M312.5 687.5h0M324.5 687.5h0M330.5 687.5h0M333.5 687.5h0M354.5 687.5h0M360.5 687.5h0M372.5 687.5h0M375.5 687.5h0M381.5 687.5h0M408.5 687.5h0M414.5 687.5h0M429.5 687.5h0M444.5 687.5h0M456.5 687.5h0M507.5 687.5h0M516.5 687.5h0M525.5 687.5h0M531.5 687.5h0M537.5 687.5h0M540.5 687.5h0M546.5 687.5h0M549.5 687.5h0M552.5 687.5h0M555.5 687.5h0M558.5 687.5h0M561.5 687.5h0M564.5 687.5h0M570.5 687.5h0M573.5 687.5h0M576.5 687.5h0M582.5 687.5h0M588.5 687.5h0M147.5 690.5h0M150.5 690.5h0M171.5 690.5h0M183.5 690.5h0M186.5 690.5h0M198.5 690.5h0M207.5 690.5h0M213.5 690.5h0M216.5 690.5h0M222.5 690.5h0M225.5 690.5h0M234.5 690.5h0M246.5 690.5h0M255.5 690.5h0M261.5 690.5h0M276.5 690.5h0M285.5 690.5h0M288.5 690.5h0M291.5 690.5h0M294.5 690.5h0M303.5 690.5h0M309.5 690.5h0M321.5 690.5h0M372.5 690.5h0M375.5 690.5h0M399.5 690.5h0M441.5 690.5h0M477.5 690.5h0M522.5 690.5h0M528.5 690.5h0M534.5 690.5h0M537.5 690.5h0M540.5 690.5h0M543.5 690.5h0M549.5 690.5h0M552.5 690.5h0M555.5 690.5h0M558.5 690.5h0M561.5 690.5h0M564.5 690.5h0M567.5 690.5h0M570.5 690.5h0M573.5 690.5h0M576.5 690.5h0M585.5 690.5h0M588.5 690.5h0M651.5 690.5h0M171.5 693.5h0M180.5 693.5h0M198.5 693.5h0M201.5 693.5h0M204.5 693.5h0M210.5 693.5h0M216.5 693.5h0M219.5 693.5h0M228.5 693.5h0M231.5 693.5h0M234.5 693.5h0M255.5 693.5h0M270.5 693.5h0M282.5 693.5h0M288.5 693.5h0M315.5 693.5h0M318.5 693.5h0M327.5 693.5h0M339.5 693.5h0M354.5 693.5h0M381.5 693.5h0M384.5 693.5h0M390.5 693.5h0M393.5 693.5h0M402.5 693.5h0M408.5 693.5h0M426.5 693.5h0M504.5 693.5h0M519.5 693.5h0M525.5 693.5h0M528.5 693.5h0M531.5 693.5h0M534.5 693.5h0M537.5 693.5h0M540.5 693.5h0M543.5 693.5h0M546.5 693.5h0M549.5 693.5h0M552.5 693.5h0M555.5 693.5h0M558.5 693.5h0M561.5 693.5h0M564.5 693.5h0M567.5 693.5h0M570.5 693.5h0M576.5 693.5h0M582.5 693.5h0M594.5 693.5h0M141.5 696.5h0M162.5 696.5h0M177.5 696.5h0M183.5 696.5h0M225.5 696.5h0M231.5 696.5h0M237.5 696.5h0M258.5 696.5h0M264.5 696.5h0M267.5 696.5h0M279.5 696.5h0M306.5 696.5h0M366.5 696.5h0M372.5 696.5h0M399.5 696.5h0M408.5 696.5h0M453.5 696.5h0M498.5 696.5h0M504.5 696.5h0M513.5 696.5h0M519.5 696.5h0M534.5 696.5h0M537.5 696.5h0M540.5 696.5h0M543.5 696.5h0M546.5 696.5h0M549.5 696.5h0M552.5 696.5h0M555.5 696.5h0M558.5 696.5h0M561.5 696.5h0M564.5 696.5h0M570.5 696.5h0M576.5 696.5h0M579.5 696.5h0M588.5 696.5h0M144.5 699.5h0M162.5 699.5h0M165.5 699.5h0M168.5 699.5h0M174.5 699.5h0M201.5 699.5h0M207.5 699.5h0M219.5 699.5h0M231.5 699.5h0M234.5 699.5h0M264.5 699.5h0M279.5 699.5h0M282.5 699.5h0M309.5 699.5h0M312.5 699.5h0M345.5 699.5h0M360.5 699.5h0M420.5 699.5h0M423.5 699.5h0M426.5 699.5h0M450.5 699.5h0M474.5 699.5h0M522.5 699.5h0M528.5 699.5h0M531.5 699.5h0M537.5 699.5h0M543.5 699.5h0M546.5 699.5h0M549.5 699.5h0M552.5 699.5h0M555.5 699.5h0M558.5 699.5h0M561.5 699.5h0M564.5 699.5h0M570.5 699.5h0M573.5 699.5h0M576.5 699.5h0M582.5 699.5h0M594.5 699.5h0M153.5 702.5h0M156.5 702.5h0M159.5 702.5h0M174.5 702.5h0M189.5 702.5h0M192.5 702.5h0M207.5 702.5h0M216.5 702.5h0M222.5 702.5h0M240.5 702.5h0M282.5 702.5h0M285.5 702.5h0M291.5 702.5h0M312.5 702.5h0M321.5 702.5h0M345.5 702.5h0M360.5 702.5h0M405.5 702.5h0M414.5 702.5h0M417.5 702.5h0M429.5 702.5h0M447.5 702.5h0M477.5 702.5h0M495.5 702.5h0M498.5 702.5h0M513.5 702.5h0M528.5 702.5h0M534.5 702.5h0M540.5 702.5h0M543.5 702.5h0M546.5 702.5h0M549.5 702.5h0M555.5 702.5h0M558.5 702.5h0M561.5 702.5h0M564.5 702.5h0M576.5 702.5h0M582.5 702.5h0M153.5 705.5h0M159.5 705.5h0M162.5 705.5h0M177.5 705.5h0M180.5 705.5h0M189.5 705.5h0M204.5 705.5h0M207.5 705.5h0M222.5 705.5h0M249.5 705.5h0M267.5 705.5h0M303.5 705.5h0M309.5 705.5h0M339.5 705.5h0M342.5 705.5h0M354.5 705.5h0M393.5 705.5h0M423.5 705.5h0M432.5 705.5h0M474.5 705.5h0M507.5 705.5h0M531.5 705.5h0M534.5 705.5h0M537.5 705.5h0M552.5 705.5h0M555.5 705.5h0M558.5 705.5h0M561.5 705.5h0M567.5 705.5h0M576.5 705.5h0M582.5 705.5h0M147.5 708.5h0M174.5 708.5h0M198.5 708.5h0M201.5 708.5h0M213.5 708.5h0M231.5 708.5h0M264.5 708.5h0M270.5 708.5h0M273.5 708.5h0M288.5 708.5h0M291.5 708.5h0M327.5 708.5h0M339.5 708.5h0M480.5 708.5h0M519.5 708.5h0M531.5 708.5h0M534.5 708.5h0M537.5 708.5h0M540.5 708.5h0M543.5 708.5h0M546.5 708.5h0M549.5 708.5h0M552.5 708.5h0M555.5 708.5h0M558.5 708.5h0M561.5 708.5h0M564.5 708.5h0M570.5 708.5h0M585.5 708.5h0M588.5 708.5h0M591.5 708.5h0M144.5 711.5h0M150.5 711.5h0M156.5 711.5h0M201.5 711.5h0M222.5 711.5h0M231.5 711.5h0M237.5 711.5h0M246.5 711.5h0M252.5 711.5h0M306.5 711.5h0M309.5 711.5h0M357.5 711.5h0M393.5 711.5h0M522.5 711.5h0M525.5 711.5h0M528.5 711.5h0M537.5 711.5h0M540.5 711.5h0M543.5 711.5h0M546.5 711.5h0M549.5 711.5h0M552.5 711.5h0M555.5 711.5h0M558.5 711.5h0M561.5 711.5h0M564.5 711.5h0M567.5 711.5h0M573.5 711.5h0M576.5 711.5h0M582.5 711.5h0M141.5 714.5h0M147.5 714.5h0M180.5 714.5h0M183.5 714.5h0M210.5 714.5h0M213.5 714.5h0M231.5 714.5h0M258.5 714.5h0M261.5 714.5h0M300.5 714.5h0M303.5 714.5h0M315.5 714.5h0M378.5 714.5h0M423.5 714.5h0M432.5 714.5h0M495.5 714.5h0M522.5 714.5h0M528.5 714.5h0M534.5 714.5h0M543.5 714.5h0M546.5 714.5h0M549.5 714.5h0M552.5 714.5h0M555.5 714.5h0M561.5 714.5h0M564.5 714.5h0M567.5 714.5h0M570.5 714.5h0M585.5 714.5h0M588.5 714.5h0M162.5 717.5h0M216.5 717.5h0M234.5 717.5h0M258.5 717.5h0M291.5 717.5h0M300.5 717.5h0M354.5 717.5h0M423.5 717.5h0M522.5 717.5h0M525.5 717.5h0M537.5 717.5h0M540.5 717.5h0M543.5 717.5h0M549.5 717.5h0M552.5 717.5h0M555.5 717.5h0M564.5 717.5h0M567.5 717.5h0M579.5 717.5h0M582.5 717.5h0M162.5 720.5h0M207.5 720.5h0M210.5 720.5h0M276.5 720.5h0M372.5 720.5h0M528.5 720.5h0M534.5 720.5h0M537.5 720.5h0M543.5 720.5h0M546.5 720.5h0M552.5 720.5h0M558.5 720.5h0M561.5 720.5h0M564.5 720.5h0M567.5 720.5h0M579.5 720.5h0M582.5 720.5h0M150.5 723.5h0M231.5 723.5h0M234.5 723.5h0M264.5 723.5h0M291.5 723.5h0M318.5 723.5h0M372.5 723.5h0M381.5 723.5h0M531.5 723.5h0M540.5 723.5h0M543.5 723.5h0M546.5 723.5h0M549.5 723.5h0M555.5 723.5h0M558.5 723.5h0M561.5 723.5h0M579.5 723.5h0M582.5 723.5h0M600.5 723.5h0M612.5 723.5h0M180.5 726.5h0M267.5 726.5h0M330.5 726.5h0M339.5 726.5h0M369.5 726.5h0M402.5 726.5h0M429.5 726.5h0M531.5 726.5h0M534.5 726.5h0M540.5 726.5h0M543.5 726.5h0M546.5 726.5h0M549.5 726.5h0M552.5 726.5h0M555.5 726.5h0M558.5 726.5h0M561.5 726.5h0M564.5 726.5h0M567.5 726.5h0M570.5 726.5h0M573.5 726.5h0M141.5 729.5h0M147.5 729.5h0M180.5 729.5h0M234.5 729.5h0M258.5 729.5h0M306.5 729.5h0M327.5 729.5h0M414.5 729.5h0M540.5 729.5h0M546.5 729.5h0M552.5 729.5h0M555.5 729.5h0M561.5 729.5h0M564.5 729.5h0M573.5 729.5h0M579.5 729.5h0M582.5 729.5h0M585.5 729.5h0M153.5 732.5h0M156.5 732.5h0M165.5 732.5h0M234.5 732.5h0M309.5 732.5h0M531.5 732.5h0M540.5 732.5h0M543.5 732.5h0M549.5 732.5h0M555.5 732.5h0M558.5 732.5h0M561.5 732.5h0M564.5 732.5h0M567.5 732.5h0M570.5 732.5h0M576.5 732.5h0M147.5 735.5h0M156.5 735.5h0M201.5 735.5h0M279.5 735.5h0M381.5 735.5h0M393.5 735.5h0M453.5 735.5h0M507.5 735.5h0M537.5 735.5h0M540.5 735.5h0M546.5 735.5h0M561.5 735.5h0M564.5 735.5h0M573.5 735.5h0M576.5 735.5h0M579.5 735.5h0M582.5 735.5h0M585.5 735.5h0M597.5 735.5h0M186.5 738.5h0M273.5 738.5h0M540.5 738.5h0M543.5 738.5h0M546.5 738.5h0M549.5 738.5h0M558.5 738.5h0M561.5 738.5h0M564.5 738.5h0M579.5 738.5h0M585.5 738.5h0M588.5 738.5h0M273.5 741.5h0M543.5 741.5h0M549.5 741.5h0M555.5 741.5h0M561.5 741.5h0M564.5 741.5h0M567.5 741.5h0M573.5 741.5h0M576.5 741.5h0M588.5 741.5h0M594.5 741.5h0M597.5 741.5h0M603.5 741.5h0M186.5 744.5h0M231.5 744.5h0M255.5 744.5h0M297.5 744.5h0M411.5 744.5h0M534.5 744.5h0M537.5 744.5h0M546.5 744.5h0M549.5 744.5h0M555.5 744.5h0M558.5 744.5h0M567.5 744.5h0M582.5 744.5h0M189.5 747.5h0M522.5 747.5h0M537.5 747.5h0M549.5 747.5h0M552.5 747.5h0M555.5 747.5h0M558.5 747.5h0M561.5 747.5h0M564.5 747.5h0M573.5 747.5h0M576.5 747.5h0M189.5 750.5h0M192.5 750.5h0M279.5 750.5h0M486.5 750.5h0M543.5 750.5h0M555.5 750.5h0M561.5 750.5h0M564.5 750.5h0M576.5 750.5h0M579.5 750.5h0M585.5 750.5h0M240.5 753.5h0M294.5 753.5h0M306.5 753.5h0M330.5 753.5h0M528.5 753.5h0M540.5 753.5h0M549.5 753.5h0M552.5 753.5h0M558.5 753.5h0M564.5 753.5h0M570.5 753.5h0M165.5 756.5h0M189.5 756.5h0M522.5 756.5h0M540.5 756.5h0M564.5 756.5h0M567.5 756.5h0M582.5 756.5h0M153.5 759.5h0M201.5 759.5h0M477.5 759.5h0M540.5 759.5h0M552.5 759.5h0M558.5 759.5h0M570.5 759.5h0M585.5 759.5h0M195.5 762.5h0M300.5 762.5h0M333.5 762.5h0M537.5 762.5h0M558.5 762.5h0M561.5 762.5h0M384.1 144.5h0M483.7 170.7h0M565.4 182.7h0M451.7 208.9h0M536.7 212.2h0M554.0 208.9h0M574.6 203.3h0M483.7 223.9h0M374.9 249.7h0M539.6 247.1h0M545.8 247.1h0M457.6 258.9h0M477.8 264.4h0M548.1 258.9h0M562.8 255.6h0M583.4 255.6h0M474.9 273.6h0M542.5 273.6h0M545.8 271.0h0M559.9 273.6h0M554.0 276.2h0M472.0 282.4h0M513.1 282.4h0M539.6 282.4h0M568.7 282.4h0M565.4 285.4h0M527.8 285.4h0M483.7 288.3h0M516.1 290.9h0M612.5 288.3h0M463.5 296.8h0M545.8 293.9h0M556.9 296.8h0M530.5 299.7h0M527.8 308.6h0M533.4 308.6h0M559.9 308.6h0M548.4 311.5h0M554.0 311.5h0M501.4 314.4h0M522.0 317.4h0M551.4 317.4h0M571.6 317.4h0M609.5 320.3h0M615.8 317.4h0M542.5 326.2h0M545.8 329.2h0M559.9 329.2h0M548.4 335.0h0M551.4 338.0h0M559.9 335.0h0M577.5 335.0h0M527.8 346.5h0M516.1 352.7h0M545.8 352.7h0M562.8 343.9h0M559.9 349.7h0M562.8 355.3h0M460.5 349.7h0M533.4 361.2h0M589.3 364.1h0M571.6 384.7h0M559.9 402.4h0M647.8 408.2h0M562.8 414.1h0M384.1 422.9h0M530.5 422.9h0M530.5 425.6h0M565.4 431.4h0M481.1 446.1h0M472.0 463.1h0" stroke="#3d0c7e" stroke-width="4.1" stroke-linecap="round" fill="none"/>
<rect x="138.5" y="18.5" width="746.7" height="746.9" fill="none" stroke="#000" stroke-width="3"/><line x1="372.5" y1="18.5" x2="372.5" y2="765.4" stroke="#000" stroke-width="2.6"/><line x1="138.5" y1="465.5" x2="885.2" y2="465.5" stroke="#000" stroke-width="2.6"/><path d="M121 21.6H137 M121 206.5H137 M121 393.5H137 M121 581.0H137 M131 28.2H137 M131 37.4H137 M131 50.0H137 M131 62.4H137 M131 78.3H137 M131 93.3H137 M131 118.3H137 M131 150.2H137 M131 215.2H137 M131 224.8H137 M131 237.4H137 M131 250.0H137 M131 262.4H137 M131 281.5H137 M131 306.5H137 M131 337.4H137 M131 403.3H137 M131 412.6H137 M131 421.9H137 M131 434.4H137 M131 450.0H137 M131 468.7H137 M131 490.4H137 M131 525.2H137 M131 590.1H137 M131 599.7H137 M131 608.9H137 M131 621.1H137 M131 637.0H137 M131 655.7H137 M131 678.1H137 M131 711.8H137 M322.5 767V783 M510.0 767V783 M697.0 767V783 M882.6 767V783 M191.7 767V773.8 M225.9 767V773.8 M247.6 767V773.8 M266.2 767V773.8 M282.1 767V773.8 M294.5 767V773.8 M304.3 767V773.8 M313.7 767V773.8 M378.8 767V773.8 M413.7 767V773.8 M435.5 767V773.8 M454.0 767V773.8 M469.2 767V773.8 M482.3 767V773.8 M492.1 767V773.8 M500.8 767V773.8 M566.4 767V773.8 M598.0 767V773.8 M623.1 767V773.8 M641.6 767V773.8 M654.7 767V773.8 M666.7 767V773.8 M679.7 767V773.8 M688.5 767V773.8 M754.5 767V773.8 M785.3 767V773.8 M810.2 767V773.8 M826.3 767V773.8 M841.4 767V773.8 M854.3 767V773.8 M866.4 767V773.8 M876.3 767V773.8" stroke="#000" stroke-width="3" fill="none"/>
<path d="M79.10 9.80V34.00H76.20V13.91L71.65 17.42L71.00 14.76L77.65 9.80Z" fill="#000"/><text transform="matrix(0.3208 0 0 0.3437 85.22 33.66)" style="font-family:'Liberation Sans',sans-serif;font-size:100px" stroke="#000" stroke-width="0.9">0</text><text transform="matrix(0.1957 0 0 0.2366 103.42 20.76)" style="font-family:'Liberation Sans',sans-serif;font-size:100px" stroke="#000" stroke-width="0.9">3</text><path d="M79.10 194.80V218.60H76.24V198.85L71.65 202.30L71.00 199.68L77.67 194.80Z" fill="#000"/><text transform="matrix(0.3208 0 0 0.3380 85.22 218.26)" style="font-family:'Liberation Sans',sans-serif;font-size:100px" stroke="#000" stroke-width="0.9">0</text><text transform="matrix(0.2435 0 0 0.2343 101.58 206.00)" style="font-family:'Liberation Sans',sans-serif;font-size:100px" stroke="#000" stroke-width="0.9">2</text><path d="M79.10 382.30V406.00H76.26V386.33L71.65 389.77L71.00 387.16L77.68 382.30Z" fill="#000"/><text transform="matrix(0.3208 0 0 0.3366 85.22 405.66)" style="font-family:'Liberation Sans',sans-serif;font-size:100px" stroke="#000" stroke-width="0.9">0</text><path d="M111.00 376.00V392.80H108.98V378.86L105.39 381.29L104.90 379.44L109.99 376.00Z" fill="#000"/><path d="M79.10 569.60V593.20H76.27V573.61L71.65 577.03L71.00 574.44L77.68 569.60Z" fill="#000"/><text transform="matrix(0.3208 0 0 0.3352 85.22 592.86)" style="font-family:'Liberation Sans',sans-serif;font-size:100px" stroke="#000" stroke-width="0.9">0</text><text transform="matrix(0.2146 0 0 0.2338 103.04 580.37)" style="font-family:'Liberation Sans',sans-serif;font-size:100px" stroke="#000" stroke-width="0.9">0</text><path d="M310.50 796.60V820.40H307.64V800.65L302.86 804.10L302.20 801.48L309.07 796.60Z" fill="#000"/><text transform="matrix(0.3188 0 0 0.3380 316.62 820.26)" style="font-family:'Liberation Sans',sans-serif;font-size:100px" stroke="#000" stroke-width="0.9">0</text><text transform="matrix(0.2104 0 0 0.2366 334.46 807.56)" style="font-family:'Liberation Sans',sans-serif;font-size:100px" stroke="#000" stroke-width="0.9">0</text><path d="M498.20 796.60V820.40H495.34V800.65L490.56 804.10L489.90 801.48L496.77 796.60Z" fill="#000"/><text transform="matrix(0.3333 0 0 0.3380 503.87 820.26)" style="font-family:'Liberation Sans',sans-serif;font-size:100px" stroke="#000" stroke-width="0.9">0</text><path d="M530.30 791.00V807.80H528.28V793.86L524.60 796.29L524.10 794.44L529.29 791.00Z" fill="#000"/><path d="M685.50 796.60V820.40H682.64V800.65L677.86 804.10L677.20 801.48L684.07 796.60Z" fill="#000"/><text transform="matrix(0.3271 0 0 0.3380 691.49 820.26)" style="font-family:'Liberation Sans',sans-serif;font-size:100px" stroke="#000" stroke-width="0.9">0</text><text transform="matrix(0.2152 0 0 0.2400 708.92 807.80)" style="font-family:'Liberation Sans',sans-serif;font-size:100px" stroke="#000" stroke-width="0.9">2</text><path d="M870.00 796.60V820.40H867.14V800.65L862.36 804.10L861.70 801.48L868.57 796.60Z" fill="#000"/><text transform="matrix(0.3250 0 0 0.3380 875.70 820.26)" style="font-family:'Liberation Sans',sans-serif;font-size:100px" stroke="#000" stroke-width="0.9">0</text><text transform="matrix(0.1872 0 0 0.2366 894.55 807.56)" style="font-family:'Liberation Sans',sans-serif;font-size:100px" stroke="#000" stroke-width="0.9">3</text><text x="284" y="861.7" style="font-family:'Liberation Sans',sans-serif;font-size:36px" stroke="#000" stroke-width="0.3" textLength="450.5" lengthAdjust="spacingAndGlyphs">Monocyte/Granulocyte-BIOT</text><text transform="translate(55 459) rotate(-90)" x="0" y="0" style="font-family:'Liberation Sans',sans-serif;font-size:36px" stroke="#000" stroke-width="0.3" textLength="133" lengthAdjust="spacingAndGlyphs">CD3ε-PE</text><text x="14.6" y="929.9" style="font-family:'Liberation Sans',sans-serif;font-size:27.5px" stroke="#000" stroke-width="0.35" textLength="731.5" lengthAdjust="spacingAndGlyphs">Porcine peripheral blood lymphocytes, monocytes, and</text><text x="14.6" y="962.6" style="font-family:'Liberation Sans',sans-serif;font-size:27.5px" stroke="#000" stroke-width="0.35" textLength="690.7" lengthAdjust="spacingAndGlyphs">granulocytes were stained with Mouse Anti-Porcine</text><text x="14.6" y="995.7" style="font-family:'Liberation Sans',sans-serif;font-size:27.5px" stroke="#000" stroke-width="0.35" textLength="735.2" lengthAdjust="spacingAndGlyphs">Monocyte/Granulocyte-BIOT (SB Cat. No. 4525-08) and</text><text x="14.6" y="1028.3" style="font-family:'Liberation Sans',sans-serif;font-size:27.5px" stroke="#000" stroke-width="0.35" textLength="675.9" lengthAdjust="spacingAndGlyphs">Mouse Anti-Porcine CD3ε-PE (SB Cat. No. 4510-09)</text><text x="14.6" y="1061.4" style="font-family:'Liberation Sans',sans-serif;font-size:27.5px" stroke="#000" stroke-width="0.35" textLength="692.9" lengthAdjust="spacingAndGlyphs">followed by Streptavidin-FITC (SB Cat. No. 7100-02).</text>
</svg></body></html>
